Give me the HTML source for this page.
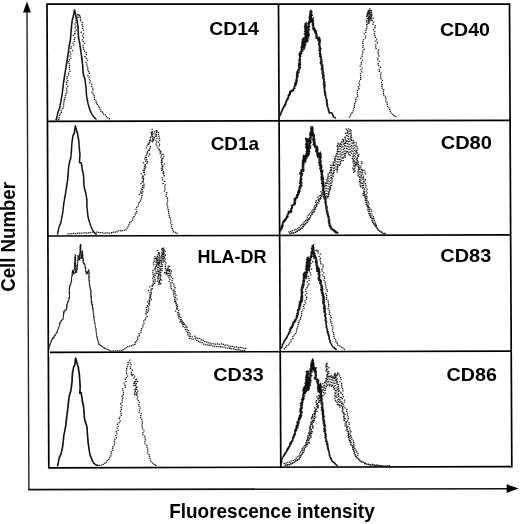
<!DOCTYPE html>
<html><head><meta charset="utf-8"><style>
html,body{margin:0;padding:0;background:#fff;}
svg{display:block;filter:grayscale(1) blur(0.3px);font-family:"Liberation Sans",sans-serif;}
</style></head><body>
<svg width="520" height="524" viewBox="0 0 520 524">
<line x1="47.0" y1="4.15" x2="509.5" y2="4.15" stroke="#000" stroke-width="1.7"/>
<line x1="48.8" y1="467.8" x2="511.8" y2="466.6" stroke="#000" stroke-width="1.7"/>
<line x1="47.0" y1="3.3" x2="48.8" y2="468.6" stroke="#000" stroke-width="1.7"/>
<line x1="509.5" y1="3.3" x2="511.8" y2="467.4" stroke="#000" stroke-width="1.7"/>
<line x1="278.5" y1="4" x2="280.8" y2="467.5" stroke="#000" stroke-width="1.7"/>
<line x1="47.4" y1="121.3" x2="510.1" y2="120.4" stroke="#000" stroke-width="1.7"/>
<line x1="47.9" y1="236.0" x2="510.6" y2="234.9" stroke="#000" stroke-width="1.7"/>
<line x1="50" y1="352.3" x2="511.2" y2="351.1" stroke="#000" stroke-width="1.7"/>
<line x1="27.0" y1="11" x2="28.9" y2="489.6" stroke="#222" stroke-width="1.4"/>
<line x1="28.2" y1="489.6" x2="508" y2="488.7" stroke="#111" stroke-width="1.6"/>
<polygon points="27,1.5 23,12.5 30.9,12.5" fill="#000"/>
<polygon points="518.8,488.5 506.7,484.3 506.7,492.9" fill="#000"/>
<path d="M56.3,119.4h1.3v1.3h-1.3zM58.1,118.8h1.3v1.3h-1.3zM58.6,116.9h1.3v1.3h-1.3zM58.9,114.9h1.3v1.3h-1.3zM59.5,113.2h1.3v1.3h-1.3zM60.7,111.6h1.3v1.3h-1.3zM60.5,109.5h1.3v1.3h-1.3zM62.1,108.0h1.3v1.3h-1.3zM62.8,106.3h1.3v1.3h-1.3zM63.0,104.3h1.3v1.3h-1.3zM63.1,102.4h1.3v1.3h-1.3zM63.4,100.5h1.3v1.3h-1.3zM63.7,98.7h1.3v1.3h-1.3zM64.4,96.9h1.3v1.3h-1.3zM64.8,95.0h1.3v1.3h-1.3zM65.2,93.1h1.3v1.3h-1.3zM66.2,91.4h1.3v1.3h-1.3zM66.2,89.5h1.3v1.3h-1.3zM66.1,87.5h1.3v1.3h-1.3zM67.1,85.8h1.3v1.3h-1.3zM65.9,83.6h1.3v1.3h-1.3zM66.0,81.8h1.3v1.3h-1.3zM67.2,80.0h1.3v1.3h-1.3zM66.3,78.0h1.3v1.3h-1.3zM66.5,76.1h1.3v1.3h-1.3zM67.9,74.3h1.3v1.3h-1.3zM68.0,72.4h1.3v1.3h-1.3zM69.3,70.7h1.3v1.3h-1.3zM68.8,68.7h1.3v1.3h-1.3zM68.7,66.8h1.3v1.3h-1.3zM68.9,64.9h1.3v1.3h-1.3zM68.4,62.9h1.3v1.3h-1.3zM68.0,61.0h1.3v1.3h-1.3zM68.8,59.1h1.3v1.3h-1.3zM70.3,57.4h1.3v1.3h-1.3zM69.4,55.4h1.3v1.3h-1.3zM70.1,53.5h1.3v1.3h-1.3zM69.4,51.5h1.3v1.3h-1.3zM71.8,50.0h1.3v1.3h-1.3zM70.4,47.8h1.3v1.3h-1.3zM70.9,46.0h1.3v1.3h-1.3zM72.9,44.4h1.3v1.3h-1.3zM72.4,42.4h1.3v1.3h-1.3zM73.7,40.7h1.3v1.3h-1.3zM73.6,38.8h1.3v1.3h-1.3zM74.2,36.9h1.3v1.3h-1.3zM72.8,34.8h1.3v1.3h-1.3zM74.2,33.1h1.3v1.3h-1.3zM74.4,31.2h1.3v1.3h-1.3zM75.6,29.4h1.3v1.3h-1.3zM74.5,27.3h1.3v1.3h-1.3zM75.3,25.5h1.3v1.3h-1.3zM74.2,23.5h1.3v1.3h-1.3zM75.3,21.7h1.3v1.3h-1.3zM75.4,19.8h1.3v1.3h-1.3zM75.3,17.7h1.3v1.3h-1.3zM77.4,16.6h1.3v1.3h-1.3zM77.0,14.1h1.3v1.3h-1.3zM78.3,14.3h1.3v1.3h-1.3zM79.0,14.9h1.3v1.3h-1.3zM79.5,16.6h1.3v1.3h-1.3zM79.8,18.5h1.3v1.3h-1.3zM80.1,20.3h1.3v1.3h-1.3zM81.8,21.9h1.3v1.3h-1.3zM81.5,23.9h1.3v1.3h-1.3zM82.1,25.7h1.3v1.3h-1.3zM81.8,27.7h1.3v1.3h-1.3zM82.8,29.5h1.3v1.3h-1.3zM80.6,31.6h1.3v1.3h-1.3zM82.7,33.3h1.3v1.3h-1.3zM81.8,35.3h1.3v1.3h-1.3zM82.9,37.1h1.3v1.3h-1.3zM81.7,39.2h1.3v1.3h-1.3zM82.5,41.0h1.3v1.3h-1.3zM84.1,42.7h1.3v1.3h-1.3zM82.5,44.8h1.3v1.3h-1.3zM82.5,46.8h1.3v1.3h-1.3zM82.9,48.6h1.3v1.3h-1.3zM84.0,50.4h1.3v1.3h-1.3zM85.5,52.0h1.3v1.3h-1.3zM85.8,53.9h1.3v1.3h-1.3zM84.3,56.1h1.3v1.3h-1.3zM85.7,57.8h1.3v1.3h-1.3zM86.9,59.5h1.3v1.3h-1.3zM85.3,61.7h1.3v1.3h-1.3zM86.1,63.5h1.3v1.3h-1.3zM86.5,65.4h1.3v1.3h-1.3zM87.1,67.2h1.3v1.3h-1.3zM87.2,69.1h1.3v1.3h-1.3zM87.9,70.9h1.3v1.3h-1.3zM88.7,72.7h1.3v1.3h-1.3zM87.2,74.9h1.3v1.3h-1.3zM88.5,76.5h1.3v1.3h-1.3zM88.8,78.4h1.3v1.3h-1.3zM89.7,80.2h1.3v1.3h-1.3zM89.2,82.2h1.3v1.3h-1.3zM91.1,83.7h1.3v1.3h-1.3zM90.9,85.7h1.3v1.3h-1.3zM92.0,87.4h1.3v1.3h-1.3zM92.3,89.3h1.3v1.3h-1.3zM91.3,91.6h1.3v1.3h-1.3zM92.4,93.2h1.3v1.3h-1.3zM93.4,94.9h1.3v1.3h-1.3zM93.8,96.8h1.3v1.3h-1.3zM93.8,98.8h1.3v1.3h-1.3zM95.3,100.2h1.3v1.3h-1.3zM95.8,102.1h1.3v1.3h-1.3zM96.6,103.8h1.3v1.3h-1.3zM97.9,105.3h1.3v1.3h-1.3zM98.6,107.0h1.3v1.3h-1.3zM99.4,108.8h1.3v1.3h-1.3zM100.2,110.6h1.3v1.3h-1.3zM102.0,111.6h1.3v1.3h-1.3zM102.8,113.4h1.3v1.3h-1.3zM104.7,114.2h1.3v1.3h-1.3zM105.7,115.9h1.3v1.3h-1.3zM107.0,117.3h1.3v1.3h-1.3zM108.8,118.1h1.3v1.3h-1.3z" fill="#1a1a1a"/>
<path d="M348.5,116.7h1.3v1.3h-1.3zM349.8,115.3h1.3v1.3h-1.3zM350.3,113.4h1.3v1.3h-1.3zM351.5,111.9h1.3v1.3h-1.3zM352.4,110.2h1.3v1.3h-1.3zM352.9,108.3h1.3v1.3h-1.3zM353.7,106.6h1.3v1.3h-1.3zM353.7,104.6h1.3v1.3h-1.3zM354.2,102.8h1.3v1.3h-1.3zM354.9,101.0h1.3v1.3h-1.3zM355.0,99.1h1.3v1.3h-1.3zM355.6,97.3h1.3v1.3h-1.3zM357.0,95.6h1.3v1.3h-1.3zM356.8,93.7h1.3v1.3h-1.3zM356.7,91.7h1.3v1.3h-1.3zM356.8,89.8h1.3v1.3h-1.3zM358.3,88.1h1.3v1.3h-1.3zM357.7,86.1h1.3v1.3h-1.3zM359.0,84.4h1.3v1.3h-1.3zM358.5,82.4h1.3v1.3h-1.3zM358.8,80.5h1.3v1.3h-1.3zM360.0,78.8h1.3v1.3h-1.3zM360.0,76.9h1.3v1.3h-1.3zM359.9,74.9h1.3v1.3h-1.3zM359.8,73.0h1.3v1.3h-1.3zM361.1,71.2h1.3v1.3h-1.3zM360.3,69.2h1.3v1.3h-1.3zM361.7,67.4h1.3v1.3h-1.3zM359.6,65.4h1.3v1.3h-1.3zM360.5,63.5h1.3v1.3h-1.3zM360.7,61.7h1.3v1.3h-1.3zM361.8,59.8h1.3v1.3h-1.3zM360.0,57.8h1.3v1.3h-1.3zM361.4,56.0h1.3v1.3h-1.3zM361.4,54.2h1.3v1.3h-1.3zM362.0,52.3h1.3v1.3h-1.3zM362.2,50.5h1.3v1.3h-1.3zM363.5,48.8h1.3v1.3h-1.3zM362.2,46.6h1.3v1.3h-1.3zM362.5,44.8h1.3v1.3h-1.3zM362.2,42.8h1.3v1.3h-1.3zM362.1,40.9h1.3v1.3h-1.3zM362.8,39.0h1.3v1.3h-1.3zM364.8,37.4h1.3v1.3h-1.3zM364.9,35.5h1.3v1.3h-1.3zM363.4,33.3h1.3v1.3h-1.3zM365.1,31.7h1.3v1.3h-1.3zM365.3,29.8h1.3v1.3h-1.3zM365.9,28.0h1.3v1.3h-1.3zM366.4,26.2h1.3v1.3h-1.3zM365.9,24.1h1.3v1.3h-1.3zM368.2,22.6h1.3v1.3h-1.3zM367.5,20.6h1.3v1.3h-1.3zM368.0,18.8h1.3v1.3h-1.3zM368.1,16.9h1.3v1.3h-1.3zM367.0,14.9h1.3v1.3h-1.3zM366.7,13.0h1.3v1.3h-1.3zM367.7,11.1h1.3v1.3h-1.3zM368.3,9.8h1.3v1.3h-1.3zM367.4,10.8h1.3v1.3h-1.3zM367.8,12.5h1.3v1.3h-1.3zM369.7,14.1h1.3v1.3h-1.3zM367.9,16.4h1.3v1.3h-1.3zM368.5,18.4h1.3v1.3h-1.3zM370.1,19.4h1.3v1.3h-1.3zM369.5,16.9h1.3v1.3h-1.3zM370.6,15.1h1.3v1.3h-1.3zM368.5,12.9h1.3v1.3h-1.3zM368.6,10.9h1.3v1.3h-1.3zM369.2,8.2h1.3v1.3h-1.3zM370.7,10.2h1.3v1.3h-1.3zM371.0,12.2h1.3v1.3h-1.3zM371.4,14.1h1.3v1.3h-1.3zM370.7,16.2h1.3v1.3h-1.3zM372.5,17.8h1.3v1.3h-1.3zM371.6,19.9h1.3v1.3h-1.3zM373.1,21.5h1.3v1.3h-1.3zM372.3,23.6h1.3v1.3h-1.3zM374.5,25.1h1.3v1.3h-1.3zM374.3,27.1h1.3v1.3h-1.3zM373.0,29.2h1.3v1.3h-1.3zM374.2,31.0h1.3v1.3h-1.3zM373.6,32.9h1.3v1.3h-1.3zM374.2,34.8h1.3v1.3h-1.3zM374.6,36.6h1.3v1.3h-1.3zM375.9,38.4h1.3v1.3h-1.3zM375.2,40.4h1.3v1.3h-1.3zM376.8,42.1h1.3v1.3h-1.3zM375.1,44.2h1.3v1.3h-1.3zM375.0,46.2h1.3v1.3h-1.3zM375.5,48.0h1.3v1.3h-1.3zM377.9,49.6h1.3v1.3h-1.3zM377.4,51.6h1.3v1.3h-1.3zM377.6,53.5h1.3v1.3h-1.3zM378.4,55.3h1.3v1.3h-1.3zM377.3,57.4h1.3v1.3h-1.3zM377.1,59.3h1.3v1.3h-1.3zM378.6,61.0h1.3v1.3h-1.3zM377.5,63.1h1.3v1.3h-1.3zM377.9,65.0h1.3v1.3h-1.3zM379.8,66.6h1.3v1.3h-1.3zM378.6,68.7h1.3v1.3h-1.3zM378.6,70.6h1.3v1.3h-1.3zM380.4,72.3h1.3v1.3h-1.3zM379.9,74.3h1.3v1.3h-1.3zM380.0,76.2h1.3v1.3h-1.3zM380.4,78.0h1.3v1.3h-1.3zM381.8,79.7h1.3v1.3h-1.3zM380.9,81.8h1.3v1.3h-1.3zM381.3,83.7h1.3v1.3h-1.3zM381.3,85.6h1.3v1.3h-1.3zM381.7,87.5h1.3v1.3h-1.3zM383.0,89.1h1.3v1.3h-1.3zM382.7,91.2h1.3v1.3h-1.3zM382.9,93.1h1.3v1.3h-1.3zM383.3,94.9h1.3v1.3h-1.3zM384.8,96.5h1.3v1.3h-1.3zM385.4,98.3h1.3v1.3h-1.3zM385.1,100.4h1.3v1.3h-1.3zM386.4,101.9h1.3v1.3h-1.3zM386.6,103.8h1.3v1.3h-1.3zM386.9,105.8h1.3v1.3h-1.3zM388.2,107.3h1.3v1.3h-1.3zM388.9,109.0h1.3v1.3h-1.3zM389.6,110.8h1.3v1.3h-1.3zM390.6,112.5h1.3v1.3h-1.3zM392.1,113.7h1.3v1.3h-1.3zM393.3,115.1h1.3v1.3h-1.3zM395.1,115.9h1.3v1.3h-1.3z" fill="#1a1a1a"/>
<path d="M67.4,233.3h1.3v1.3h-1.3zM69.3,233.3h1.3v1.3h-1.3zM71.1,232.9h1.3v1.3h-1.3zM73.0,232.8h1.3v1.3h-1.3zM74.9,232.9h1.3v1.3h-1.3zM76.8,232.5h1.3v1.3h-1.3zM78.7,232.5h1.3v1.3h-1.3zM80.6,232.4h1.3v1.3h-1.3zM82.5,232.4h1.3v1.3h-1.3zM84.4,232.0h1.3v1.3h-1.3zM86.3,232.4h1.3v1.3h-1.3zM88.2,232.1h1.3v1.3h-1.3zM90.1,231.8h1.3v1.3h-1.3zM92.0,231.5h1.3v1.3h-1.3zM93.9,231.9h1.3v1.3h-1.3zM95.8,231.5h1.3v1.3h-1.3zM97.7,231.7h1.3v1.3h-1.3zM99.6,231.9h1.3v1.3h-1.3zM101.5,232.0h1.3v1.3h-1.3zM103.4,232.7h1.3v1.3h-1.3zM105.3,232.2h1.3v1.3h-1.3zM107.2,232.2h1.3v1.3h-1.3zM109.1,232.5h1.3v1.3h-1.3zM111.0,232.1h1.3v1.3h-1.3zM112.8,231.5h1.3v1.3h-1.3zM114.7,231.5h1.3v1.3h-1.3zM116.5,231.1h1.3v1.3h-1.3zM118.1,229.9h1.3v1.3h-1.3zM120.0,230.2h1.3v1.3h-1.3zM121.7,230.0h1.3v1.3h-1.3zM123.7,229.7h1.3v1.3h-1.3zM125.4,228.9h1.3v1.3h-1.3zM126.5,227.4h1.3v1.3h-1.3zM127.5,225.7h1.3v1.3h-1.3zM128.3,223.9h1.3v1.3h-1.3zM129.1,222.1h1.3v1.3h-1.3zM130.6,220.9h1.3v1.3h-1.3zM131.9,219.4h1.3v1.3h-1.3zM132.3,217.5h1.3v1.3h-1.3zM133.4,215.9h1.3v1.3h-1.3zM134.4,214.3h1.3v1.3h-1.3zM135.3,212.6h1.3v1.3h-1.3zM136.1,210.9h1.3v1.3h-1.3zM135.3,208.7h1.3v1.3h-1.3zM135.9,206.8h1.3v1.3h-1.3zM137.5,205.4h1.3v1.3h-1.3zM137.9,203.5h1.3v1.3h-1.3zM138.7,201.8h1.3v1.3h-1.3zM139.9,200.2h1.3v1.3h-1.3zM140.5,198.4h1.3v1.3h-1.3zM141.0,196.5h1.3v1.3h-1.3zM141.5,194.7h1.3v1.3h-1.3zM141.2,192.6h1.3v1.3h-1.3zM142.2,190.9h1.3v1.3h-1.3zM141.7,188.9h1.3v1.3h-1.3zM143.2,187.2h1.3v1.3h-1.3zM143.3,185.3h1.3v1.3h-1.3zM143.3,183.4h1.3v1.3h-1.3zM142.7,181.4h1.3v1.3h-1.3zM142.7,179.5h1.3v1.3h-1.3zM142.9,177.6h1.3v1.3h-1.3zM142.0,175.6h1.3v1.3h-1.3zM144.1,173.9h1.3v1.3h-1.3zM143.7,172.0h1.3v1.3h-1.3zM143.6,170.0h1.3v1.3h-1.3zM144.3,168.2h1.3v1.3h-1.3zM145.1,166.5h1.3v1.3h-1.3zM144.7,164.4h1.3v1.3h-1.3zM146.3,162.8h1.3v1.3h-1.3zM146.9,161.1h1.3v1.3h-1.3zM146.1,158.9h1.3v1.3h-1.3zM145.9,156.9h1.3v1.3h-1.3zM148.0,155.4h1.3v1.3h-1.3zM148.9,153.6h1.3v1.3h-1.3zM146.9,151.4h1.3v1.3h-1.3zM148.6,149.7h1.3v1.3h-1.3zM149.1,147.9h1.3v1.3h-1.3zM149.7,146.1h1.3v1.3h-1.3zM148.0,143.8h1.3v1.3h-1.3zM148.5,142.0h1.3v1.3h-1.3zM151.4,140.7h1.3v1.3h-1.3zM149.6,138.4h1.3v1.3h-1.3zM149.9,136.6h1.3v1.3h-1.3zM151.1,134.8h1.3v1.3h-1.3zM150.9,132.9h1.3v1.3h-1.3zM151.7,131.2h1.3v1.3h-1.3zM151.5,128.8h1.3v1.3h-1.3zM150.5,131.8h1.3v1.3h-1.3zM152.5,133.2h1.3v1.3h-1.3zM151.4,135.4h1.3v1.3h-1.3zM153.4,136.8h1.3v1.3h-1.3zM152.7,139.0h1.3v1.3h-1.3zM152.9,139.6h1.3v1.3h-1.3zM153.1,138.7h1.3v1.3h-1.3zM153.6,137.1h1.3v1.3h-1.3zM155.0,135.5h1.3v1.3h-1.3zM154.5,133.4h1.3v1.3h-1.3zM153.8,131.1h1.3v1.3h-1.3zM156.0,130.6h1.3v1.3h-1.3zM155.6,129.9h1.3v1.3h-1.3zM155.9,130.9h1.3v1.3h-1.3zM157.9,131.9h1.3v1.3h-1.3zM157.8,134.0h1.3v1.3h-1.3zM158.3,135.8h1.3v1.3h-1.3zM158.6,137.7h1.3v1.3h-1.3zM159.0,139.7h1.3v1.3h-1.3zM157.8,141.6h1.3v1.3h-1.3zM158.9,143.4h1.3v1.3h-1.3zM158.8,145.3h1.3v1.3h-1.3zM157.2,147.5h1.3v1.3h-1.3zM158.5,149.1h1.3v1.3h-1.3zM160.1,150.7h1.3v1.3h-1.3zM159.4,152.7h1.3v1.3h-1.3zM160.7,154.4h1.3v1.3h-1.3zM160.3,156.4h1.3v1.3h-1.3zM161.2,158.2h1.3v1.3h-1.3zM160.8,160.2h1.3v1.3h-1.3zM160.7,162.1h1.3v1.3h-1.3zM161.1,163.9h1.3v1.3h-1.3zM161.7,165.8h1.3v1.3h-1.3zM160.8,167.8h1.3v1.3h-1.3zM160.8,169.7h1.3v1.3h-1.3zM162.8,171.4h1.3v1.3h-1.3zM163.0,173.3h1.3v1.3h-1.3zM163.4,175.1h1.3v1.3h-1.3zM161.5,177.3h1.3v1.3h-1.3zM161.9,179.2h1.3v1.3h-1.3zM163.9,180.8h1.3v1.3h-1.3zM162.5,182.9h1.3v1.3h-1.3zM164.5,184.5h1.3v1.3h-1.3zM164.1,186.5h1.3v1.3h-1.3zM164.4,188.4h1.3v1.3h-1.3zM163.8,190.4h1.3v1.3h-1.3zM166.0,192.0h1.3v1.3h-1.3zM165.7,194.0h1.3v1.3h-1.3zM165.5,195.9h1.3v1.3h-1.3zM166.9,197.6h1.3v1.3h-1.3zM166.9,199.5h1.3v1.3h-1.3zM166.8,201.5h1.3v1.3h-1.3zM166.3,203.5h1.3v1.3h-1.3zM166.9,205.3h1.3v1.3h-1.3zM167.1,207.2h1.3v1.3h-1.3zM167.6,209.1h1.3v1.3h-1.3zM168.0,210.9h1.3v1.3h-1.3zM168.1,212.8h1.3v1.3h-1.3zM168.6,214.7h1.3v1.3h-1.3zM168.9,216.6h1.3v1.3h-1.3zM169.8,218.3h1.3v1.3h-1.3zM170.3,220.2h1.3v1.3h-1.3zM170.0,222.2h1.3v1.3h-1.3zM171.0,223.9h1.3v1.3h-1.3zM170.7,225.9h1.3v1.3h-1.3zM171.5,227.7h1.3v1.3h-1.3zM172.1,229.4h1.3v1.3h-1.3zM172.8,231.1h1.3v1.3h-1.3zM174.9,231.8h1.3v1.3h-1.3zM176.4,232.8h1.3v1.3h-1.3z" fill="#1a1a1a"/>
<path d="M109.3,350.0h1.3v1.3h-1.3zM111.3,350.6h1.3v1.3h-1.3zM113.1,350.3h1.3v1.3h-1.3zM115.1,350.4h1.3v1.3h-1.3zM116.9,349.9h1.3v1.3h-1.3zM118.9,350.2h1.3v1.3h-1.3zM120.8,350.1h1.3v1.3h-1.3zM122.4,349.1h1.3v1.3h-1.3zM124.1,348.3h1.3v1.3h-1.3zM125.6,347.0h1.3v1.3h-1.3zM127.2,346.0h1.3v1.3h-1.3zM129.0,345.5h1.3v1.3h-1.3zM131.0,345.1h1.3v1.3h-1.3zM132.6,344.3h1.3v1.3h-1.3zM134.3,343.6h1.3v1.3h-1.3zM134.8,341.6h1.3v1.3h-1.3zM135.9,340.2h1.3v1.3h-1.3zM137.0,338.6h1.3v1.3h-1.3zM137.1,336.5h1.3v1.3h-1.3zM138.6,335.1h1.3v1.3h-1.3zM138.4,333.0h1.3v1.3h-1.3zM140.3,331.7h1.3v1.3h-1.3zM140.3,329.7h1.3v1.3h-1.3zM140.9,327.9h1.3v1.3h-1.3zM142.1,326.3h1.3v1.3h-1.3zM142.4,324.4h1.3v1.3h-1.3zM143.4,322.7h1.3v1.3h-1.3zM143.0,320.5h1.3v1.3h-1.3zM144.5,319.1h1.3v1.3h-1.3zM145.2,317.3h1.3v1.3h-1.3zM146.5,315.7h1.3v1.3h-1.3zM145.5,313.4h1.3v1.3h-1.3zM146.9,311.8h1.3v1.3h-1.3zM147.7,310.1h1.3v1.3h-1.3zM148.0,308.2h1.3v1.3h-1.3zM147.4,306.1h1.3v1.3h-1.3zM149.0,304.5h1.3v1.3h-1.3zM148.7,302.6h1.3v1.3h-1.3zM149.0,300.7h1.3v1.3h-1.3zM150.7,299.0h1.3v1.3h-1.3zM149.2,297.0h1.3v1.3h-1.3zM149.9,295.1h1.3v1.3h-1.3zM150.7,293.3h1.3v1.3h-1.3zM150.6,291.4h1.3v1.3h-1.3zM150.5,289.5h1.3v1.3h-1.3zM151.7,287.9h1.3v1.3h-1.3zM151.5,285.8h1.3v1.3h-1.3zM152.6,284.2h1.3v1.3h-1.3zM154.0,282.6h1.3v1.3h-1.3zM154.4,280.8h1.3v1.3h-1.3zM154.5,278.9h1.3v1.3h-1.3zM154.0,276.9h1.3v1.3h-1.3zM154.5,275.0h1.3v1.3h-1.3zM154.3,273.1h1.3v1.3h-1.3zM155.3,271.3h1.3v1.3h-1.3zM154.5,269.3h1.3v1.3h-1.3zM155.0,267.4h1.3v1.3h-1.3zM155.9,265.6h1.3v1.3h-1.3zM155.5,263.7h1.3v1.3h-1.3zM155.2,261.7h1.3v1.3h-1.3zM156.7,260.1h1.3v1.3h-1.3zM155.8,257.9h1.3v1.3h-1.3zM156.2,257.3h1.3v1.3h-1.3zM156.1,258.8h1.3v1.3h-1.3zM157.2,260.0h1.3v1.3h-1.3zM157.0,262.3h1.3v1.3h-1.3zM157.9,262.6h1.3v1.3h-1.3zM157.7,262.1h1.3v1.3h-1.3zM159.0,260.4h1.3v1.3h-1.3zM158.4,258.4h1.3v1.3h-1.3zM158.4,256.5h1.3v1.3h-1.3zM158.8,254.6h1.3v1.3h-1.3zM158.9,252.8h1.3v1.3h-1.3zM158.4,252.6h1.3v1.3h-1.3zM158.8,254.4h1.3v1.3h-1.3zM159.5,256.3h1.3v1.3h-1.3zM159.3,258.2h1.3v1.3h-1.3zM159.4,260.1h1.3v1.3h-1.3zM159.1,262.0h1.3v1.3h-1.3zM157.7,263.9h1.3v1.3h-1.3zM159.4,265.8h1.3v1.3h-1.3zM159.2,267.7h1.3v1.3h-1.3zM159.5,269.6h1.3v1.3h-1.3zM159.0,271.5h1.3v1.3h-1.3zM158.1,273.4h1.3v1.3h-1.3zM158.3,275.3h1.3v1.3h-1.3zM159.7,277.2h1.3v1.3h-1.3zM160.1,279.1h1.3v1.3h-1.3zM158.6,281.1h1.3v1.3h-1.3zM159.6,282.9h1.3v1.3h-1.3zM160.1,283.3h1.3v1.3h-1.3zM158.7,281.1h1.3v1.3h-1.3zM160.9,279.4h1.3v1.3h-1.3zM159.5,277.4h1.3v1.3h-1.3zM160.1,275.5h1.3v1.3h-1.3zM159.4,273.6h1.3v1.3h-1.3zM160.1,271.7h1.3v1.3h-1.3zM161.3,269.9h1.3v1.3h-1.3zM161.4,268.0h1.3v1.3h-1.3zM160.6,266.0h1.3v1.3h-1.3zM161.5,264.2h1.3v1.3h-1.3zM160.8,262.2h1.3v1.3h-1.3zM160.7,260.3h1.3v1.3h-1.3zM161.4,258.5h1.3v1.3h-1.3zM160.7,256.5h1.3v1.3h-1.3zM161.1,254.6h1.3v1.3h-1.3zM162.3,252.8h1.3v1.3h-1.3zM162.7,251.0h1.3v1.3h-1.3zM161.1,248.7h1.3v1.3h-1.3zM162.8,247.6h1.3v1.3h-1.3zM162.1,247.9h1.3v1.3h-1.3zM163.2,249.1h1.3v1.3h-1.3zM164.6,250.7h1.3v1.3h-1.3zM163.4,252.9h1.3v1.3h-1.3zM164.7,254.6h1.3v1.3h-1.3zM163.8,256.6h1.3v1.3h-1.3zM164.6,258.5h1.3v1.3h-1.3zM164.1,260.4h1.3v1.3h-1.3zM165.2,262.3h1.3v1.3h-1.3zM164.7,264.2h1.3v1.3h-1.3zM164.7,266.1h1.3v1.3h-1.3zM164.6,268.0h1.3v1.3h-1.3zM165.9,269.8h1.3v1.3h-1.3zM164.1,272.1h1.3v1.3h-1.3zM165.9,273.3h1.3v1.3h-1.3zM165.5,273.5h1.3v1.3h-1.3zM165.6,271.6h1.3v1.3h-1.3zM165.7,269.4h1.3v1.3h-1.3zM166.7,268.2h1.3v1.3h-1.3zM167.0,268.2h1.3v1.3h-1.3zM167.5,269.6h1.3v1.3h-1.3zM169.1,271.0h1.3v1.3h-1.3zM169.5,272.9h1.3v1.3h-1.3zM169.3,274.9h1.3v1.3h-1.3zM168.4,277.0h1.3v1.3h-1.3zM169.3,278.7h1.3v1.3h-1.3zM168.6,280.8h1.3v1.3h-1.3zM169.7,282.5h1.3v1.3h-1.3zM170.2,284.4h1.3v1.3h-1.3zM170.3,286.3h1.3v1.3h-1.3zM170.8,288.1h1.3v1.3h-1.3zM172.4,289.7h1.3v1.3h-1.3zM173.1,291.5h1.3v1.3h-1.3zM173.0,293.5h1.3v1.3h-1.3zM173.2,295.4h1.3v1.3h-1.3zM174.4,297.1h1.3v1.3h-1.3zM174.0,299.1h1.3v1.3h-1.3zM173.9,301.0h1.3v1.3h-1.3zM175.4,302.7h1.3v1.3h-1.3zM175.7,304.6h1.3v1.3h-1.3zM176.0,306.4h1.3v1.3h-1.3zM176.1,308.3h1.3v1.3h-1.3zM175.0,310.5h1.3v1.3h-1.3zM177.3,311.9h1.3v1.3h-1.3zM177.4,313.8h1.3v1.3h-1.3zM178.1,315.6h1.3v1.3h-1.3zM178.2,317.5h1.3v1.3h-1.3zM179.7,318.9h1.3v1.3h-1.3zM179.6,321.1h1.3v1.3h-1.3zM181.1,322.4h1.3v1.3h-1.3zM182.1,324.0h1.3v1.3h-1.3zM182.4,326.0h1.3v1.3h-1.3zM184.3,327.0h1.3v1.3h-1.3zM184.8,329.0h1.3v1.3h-1.3zM186.1,330.4h1.3v1.3h-1.3zM186.9,332.1h1.3v1.3h-1.3zM187.2,334.2h1.3v1.3h-1.3zM188.6,335.4h1.3v1.3h-1.3zM188.7,337.8h1.3v1.3h-1.3zM190.5,338.3h1.3v1.3h-1.3zM192.5,338.5h1.3v1.3h-1.3zM194.7,338.3h1.3v1.3h-1.3zM196.1,339.8h1.3v1.3h-1.3zM197.8,340.6h1.3v1.3h-1.3zM199.4,341.6h1.3v1.3h-1.3zM201.4,341.9h1.3v1.3h-1.3zM202.8,343.5h1.3v1.3h-1.3zM204.6,344.2h1.3v1.3h-1.3zM206.5,344.2h1.3v1.3h-1.3zM208.4,344.6h1.3v1.3h-1.3zM210.3,344.6h1.3v1.3h-1.3zM212.1,345.5h1.3v1.3h-1.3zM213.9,345.7h1.3v1.3h-1.3zM215.8,346.0h1.3v1.3h-1.3zM217.8,345.9h1.3v1.3h-1.3zM219.6,346.1h1.3v1.3h-1.3zM221.5,346.3h1.3v1.3h-1.3zM223.4,346.4h1.3v1.3h-1.3zM225.2,347.2h1.3v1.3h-1.3zM227.1,347.4h1.3v1.3h-1.3zM229.0,347.6h1.3v1.3h-1.3zM230.8,348.2h1.3v1.3h-1.3zM232.8,348.1h1.3v1.3h-1.3zM234.6,348.9h1.3v1.3h-1.3zM236.4,349.1h1.3v1.3h-1.3zM238.4,349.1h1.3v1.3h-1.3zM240.2,349.7h1.3v1.3h-1.3zM242.1,349.9h1.3v1.3h-1.3zM244.0,349.8h1.3v1.3h-1.3z" fill="#1a1a1a"/>
<path d="M97.3,464.7h1.3v1.3h-1.3zM99.2,464.8h1.3v1.3h-1.3zM101.1,464.5h1.3v1.3h-1.3zM102.8,463.8h1.3v1.3h-1.3zM104.3,462.6h1.3v1.3h-1.3zM105.8,461.5h1.3v1.3h-1.3zM106.6,459.7h1.3v1.3h-1.3zM108.3,458.6h1.3v1.3h-1.3zM109.1,456.8h1.3v1.3h-1.3zM110.1,455.2h1.3v1.3h-1.3zM110.5,453.2h1.3v1.3h-1.3zM110.7,451.3h1.3v1.3h-1.3zM112.2,449.8h1.3v1.3h-1.3zM111.9,447.8h1.3v1.3h-1.3zM112.2,445.9h1.3v1.3h-1.3zM113.7,444.3h1.3v1.3h-1.3zM114.0,442.4h1.3v1.3h-1.3zM113.6,440.4h1.3v1.3h-1.3zM114.2,438.5h1.3v1.3h-1.3zM115.8,437.0h1.3v1.3h-1.3zM115.1,434.9h1.3v1.3h-1.3zM116.3,433.2h1.3v1.3h-1.3zM115.6,431.1h1.3v1.3h-1.3zM117.4,429.5h1.3v1.3h-1.3zM116.4,427.4h1.3v1.3h-1.3zM117.6,425.7h1.3v1.3h-1.3zM116.9,423.6h1.3v1.3h-1.3zM118.5,422.0h1.3v1.3h-1.3zM119.6,420.3h1.3v1.3h-1.3zM118.4,418.1h1.3v1.3h-1.3zM119.2,416.4h1.3v1.3h-1.3zM120.6,414.6h1.3v1.3h-1.3zM120.4,412.7h1.3v1.3h-1.3zM119.8,410.7h1.3v1.3h-1.3zM120.7,408.9h1.3v1.3h-1.3zM120.4,407.0h1.3v1.3h-1.3zM121.5,405.2h1.3v1.3h-1.3zM120.1,403.1h1.3v1.3h-1.3zM121.5,401.4h1.3v1.3h-1.3zM121.5,399.5h1.3v1.3h-1.3zM122.1,397.6h1.3v1.3h-1.3zM121.4,395.6h1.3v1.3h-1.3zM122.7,393.9h1.3v1.3h-1.3zM122.9,392.0h1.3v1.3h-1.3zM122.4,390.0h1.3v1.3h-1.3zM121.9,388.0h1.3v1.3h-1.3zM124.6,386.6h1.3v1.3h-1.3zM124.3,384.6h1.3v1.3h-1.3zM123.4,382.4h1.3v1.3h-1.3zM125.3,380.9h1.3v1.3h-1.3zM124.6,378.8h1.3v1.3h-1.3zM125.7,377.1h1.3v1.3h-1.3zM126.9,375.4h1.3v1.3h-1.3zM126.0,373.3h1.3v1.3h-1.3zM125.8,371.4h1.3v1.3h-1.3zM126.0,369.5h1.3v1.3h-1.3zM126.1,367.6h1.3v1.3h-1.3zM127.0,365.8h1.3v1.3h-1.3zM127.4,363.8h1.3v1.3h-1.3zM127.5,361.6h1.3v1.3h-1.3zM129.1,359.5h1.3v1.3h-1.3zM129.5,362.3h1.3v1.3h-1.3zM130.5,363.9h1.3v1.3h-1.3zM129.6,366.2h1.3v1.3h-1.3zM129.7,368.0h1.3v1.3h-1.3zM131.6,369.6h1.3v1.3h-1.3zM130.7,371.7h1.3v1.3h-1.3zM130.7,373.5h1.3v1.3h-1.3zM131.6,375.0h1.3v1.3h-1.3zM132.5,373.8h1.3v1.3h-1.3zM131.8,374.3h1.3v1.3h-1.3zM133.9,375.4h1.3v1.3h-1.3zM133.3,377.5h1.3v1.3h-1.3zM135.2,379.0h1.3v1.3h-1.3zM133.9,381.1h1.3v1.3h-1.3zM133.2,383.0h1.3v1.3h-1.3zM133.3,384.9h1.3v1.3h-1.3zM135.6,386.7h1.3v1.3h-1.3zM134.3,388.7h1.3v1.3h-1.3zM134.7,390.6h1.3v1.3h-1.3zM133.8,392.5h1.3v1.3h-1.3zM135.6,394.0h1.3v1.3h-1.3zM134.0,393.9h1.3v1.3h-1.3zM135.6,392.2h1.3v1.3h-1.3zM134.8,390.2h1.3v1.3h-1.3zM134.9,388.3h1.3v1.3h-1.3zM136.4,386.5h1.3v1.3h-1.3zM134.8,384.5h1.3v1.3h-1.3zM134.2,382.5h1.3v1.3h-1.3zM135.3,380.7h1.3v1.3h-1.3zM136.0,378.4h1.3v1.3h-1.3zM136.9,380.9h1.3v1.3h-1.3zM135.8,383.0h1.3v1.3h-1.3zM135.0,385.0h1.3v1.3h-1.3zM136.1,386.8h1.3v1.3h-1.3zM136.1,388.7h1.3v1.3h-1.3zM137.1,390.5h1.3v1.3h-1.3zM136.6,392.5h1.3v1.3h-1.3zM136.2,394.5h1.3v1.3h-1.3zM136.9,396.3h1.3v1.3h-1.3zM136.7,398.2h1.3v1.3h-1.3zM137.6,400.0h1.3v1.3h-1.3zM138.8,401.8h1.3v1.3h-1.3zM138.0,403.8h1.3v1.3h-1.3zM138.5,405.7h1.3v1.3h-1.3zM139.6,407.4h1.3v1.3h-1.3zM138.7,409.5h1.3v1.3h-1.3zM138.6,411.4h1.3v1.3h-1.3zM140.7,413.0h1.3v1.3h-1.3zM140.1,415.0h1.3v1.3h-1.3zM140.0,417.0h1.3v1.3h-1.3zM141.1,418.7h1.3v1.3h-1.3zM141.6,420.5h1.3v1.3h-1.3zM141.7,422.5h1.3v1.3h-1.3zM141.5,424.4h1.3v1.3h-1.3zM141.5,426.3h1.3v1.3h-1.3zM142.1,428.2h1.3v1.3h-1.3zM143.3,429.9h1.3v1.3h-1.3zM142.2,432.0h1.3v1.3h-1.3zM142.3,433.9h1.3v1.3h-1.3zM144.1,435.5h1.3v1.3h-1.3zM144.2,437.4h1.3v1.3h-1.3zM144.8,439.2h1.3v1.3h-1.3zM144.1,441.3h1.3v1.3h-1.3zM144.5,443.2h1.3v1.3h-1.3zM146.3,444.7h1.3v1.3h-1.3zM146.3,446.7h1.3v1.3h-1.3zM147.0,448.5h1.3v1.3h-1.3zM147.0,450.4h1.3v1.3h-1.3zM146.9,452.4h1.3v1.3h-1.3zM148.4,454.0h1.3v1.3h-1.3zM148.8,455.8h1.3v1.3h-1.3zM149.2,457.7h1.3v1.3h-1.3zM149.9,459.5h1.3v1.3h-1.3zM150.4,461.3h1.3v1.3h-1.3zM152.0,462.5h1.3v1.3h-1.3zM153.5,463.7h1.3v1.3h-1.3zM155.0,464.6h1.3v1.3h-1.3z" fill="#1a1a1a"/>
<path d="M283.7,348.1h1.3v1.3h-1.3zM285.1,346.8h1.3v1.3h-1.3zM286.2,345.2h1.3v1.3h-1.3zM287.9,344.2h1.3v1.3h-1.3zM288.8,342.5h1.3v1.3h-1.3zM290.4,341.3h1.3v1.3h-1.3zM290.5,339.2h1.3v1.3h-1.3zM292.2,338.0h1.3v1.3h-1.3zM292.3,335.9h1.3v1.3h-1.3zM293.6,334.4h1.3v1.3h-1.3zM294.9,332.9h1.3v1.3h-1.3zM295.7,331.2h1.3v1.3h-1.3zM296.0,329.3h1.3v1.3h-1.3zM296.5,327.5h1.3v1.3h-1.3zM297.2,325.8h1.3v1.3h-1.3zM297.4,323.8h1.3v1.3h-1.3zM298.2,322.1h1.3v1.3h-1.3zM298.6,320.2h1.3v1.3h-1.3zM299.7,318.6h1.3v1.3h-1.3zM300.0,316.7h1.3v1.3h-1.3zM301.0,315.0h1.3v1.3h-1.3zM300.9,313.0h1.3v1.3h-1.3zM301.0,311.0h1.3v1.3h-1.3zM302.1,309.4h1.3v1.3h-1.3zM303.4,307.8h1.3v1.3h-1.3zM302.8,305.7h1.3v1.3h-1.3zM303.6,303.9h1.3v1.3h-1.3zM304.8,302.2h1.3v1.3h-1.3zM304.3,300.2h1.3v1.3h-1.3zM305.7,298.5h1.3v1.3h-1.3zM306.0,296.6h1.3v1.3h-1.3zM304.8,294.5h1.3v1.3h-1.3zM306.1,292.8h1.3v1.3h-1.3zM305.1,290.7h1.3v1.3h-1.3zM305.2,288.8h1.3v1.3h-1.3zM306.3,287.0h1.3v1.3h-1.3zM307.1,285.2h1.3v1.3h-1.3zM308.3,283.6h1.3v1.3h-1.3zM306.6,281.3h1.3v1.3h-1.3zM308.5,279.7h1.3v1.3h-1.3zM308.3,277.7h1.3v1.3h-1.3zM307.8,275.7h1.3v1.3h-1.3zM310.2,274.2h1.3v1.3h-1.3zM309.8,272.2h1.3v1.3h-1.3zM308.6,270.1h1.3v1.3h-1.3zM310.9,268.5h1.3v1.3h-1.3zM309.1,266.3h1.3v1.3h-1.3zM309.4,264.4h1.3v1.3h-1.3zM310.3,262.7h1.3v1.3h-1.3zM312.1,261.1h1.3v1.3h-1.3zM310.3,258.8h1.3v1.3h-1.3zM313.0,257.5h1.3v1.3h-1.3zM312.7,255.4h1.3v1.3h-1.3zM311.9,253.0h1.3v1.3h-1.3zM313.7,251.8h1.3v1.3h-1.3zM314.3,250.0h1.3v1.3h-1.3zM315.9,249.5h1.3v1.3h-1.3zM316.9,250.5h1.3v1.3h-1.3zM317.6,250.4h1.3v1.3h-1.3zM317.5,252.5h1.3v1.3h-1.3zM319.8,253.4h1.3v1.3h-1.3zM318.5,255.8h1.3v1.3h-1.3zM319.8,257.4h1.3v1.3h-1.3zM319.4,259.5h1.3v1.3h-1.3zM319.9,261.3h1.3v1.3h-1.3zM320.2,263.1h1.3v1.3h-1.3zM322.5,264.5h1.3v1.3h-1.3zM322.3,266.5h1.3v1.3h-1.3zM321.3,268.6h1.3v1.3h-1.3zM321.5,270.5h1.3v1.3h-1.3zM323.2,272.2h1.3v1.3h-1.3zM321.9,274.3h1.3v1.3h-1.3zM323.4,276.0h1.3v1.3h-1.3zM323.9,277.8h1.3v1.3h-1.3zM323.3,279.8h1.3v1.3h-1.3zM324.4,281.6h1.3v1.3h-1.3zM324.7,283.4h1.3v1.3h-1.3zM325.1,285.3h1.3v1.3h-1.3zM325.3,287.2h1.3v1.3h-1.3zM326.3,289.0h1.3v1.3h-1.3zM326.7,290.8h1.3v1.3h-1.3zM325.2,293.0h1.3v1.3h-1.3zM326.0,294.8h1.3v1.3h-1.3zM326.0,296.7h1.3v1.3h-1.3zM325.9,298.6h1.3v1.3h-1.3zM327.5,300.3h1.3v1.3h-1.3zM327.8,302.2h1.3v1.3h-1.3zM328.0,304.1h1.3v1.3h-1.3zM328.2,306.0h1.3v1.3h-1.3zM327.4,308.0h1.3v1.3h-1.3zM328.6,309.8h1.3v1.3h-1.3zM328.9,311.6h1.3v1.3h-1.3zM328.7,313.6h1.3v1.3h-1.3zM330.0,315.3h1.3v1.3h-1.3zM330.5,317.1h1.3v1.3h-1.3zM329.8,319.2h1.3v1.3h-1.3zM330.1,321.1h1.3v1.3h-1.3zM331.2,322.8h1.3v1.3h-1.3zM330.9,324.8h1.3v1.3h-1.3zM332.2,326.5h1.3v1.3h-1.3zM331.9,328.5h1.3v1.3h-1.3zM331.9,330.4h1.3v1.3h-1.3zM332.9,332.1h1.3v1.3h-1.3zM333.2,334.0h1.3v1.3h-1.3zM333.3,335.9h1.3v1.3h-1.3zM333.8,337.8h1.3v1.3h-1.3zM335.0,339.3h1.3v1.3h-1.3zM335.3,341.3h1.3v1.3h-1.3zM336.6,342.6h1.3v1.3h-1.3zM337.2,344.6h1.3v1.3h-1.3zM339.2,345.2h1.3v1.3h-1.3zM340.7,346.4h1.3v1.3h-1.3zM342.3,347.3h1.3v1.3h-1.3zM343.7,348.7h1.3v1.3h-1.3z" fill="#1a1a1a"/>
<path d="M330.6,375.0h1.3v1.3h-1.3zM332.3,375.8h1.3v1.3h-1.3zM334.1,377.7h1.3v1.3h-1.3zM335.5,379.1h1.3v1.3h-1.3zM335.1,375.7h1.3v1.3h-1.3zM336.2,375.0h1.3v1.3h-1.3zM336.7,373.4h1.3v1.3h-1.3zM337.1,372.3h1.3v1.3h-1.3zM338.2,373.4h1.3v1.3h-1.3zM338.8,375.3h1.3v1.3h-1.3zM340.0,376.9h1.3v1.3h-1.3zM340.4,378.9h1.3v1.3h-1.3zM339.4,381.0h1.3v1.3h-1.3zM341.0,382.7h1.3v1.3h-1.3zM341.1,384.6h1.3v1.3h-1.3zM341.1,386.5h1.3v1.3h-1.3zM342.0,388.3h1.3v1.3h-1.3zM342.4,390.2h1.3v1.3h-1.3zM340.4,392.4h1.3v1.3h-1.3zM341.9,394.1h1.3v1.3h-1.3zM342.8,395.9h1.3v1.3h-1.3zM341.8,398.0h1.3v1.3h-1.3zM343.9,399.5h1.3v1.3h-1.3zM343.8,401.4h1.3v1.3h-1.3zM342.5,403.7h1.3v1.3h-1.3zM343.1,405.5h1.3v1.3h-1.3zM344.3,407.2h1.3v1.3h-1.3zM346.1,408.7h1.3v1.3h-1.3zM345.9,410.7h1.3v1.3h-1.3zM346.9,412.5h1.3v1.3h-1.3zM346.8,414.4h1.3v1.3h-1.3zM347.6,416.2h1.3v1.3h-1.3zM347.6,418.1h1.3v1.3h-1.3zM346.8,420.2h1.3v1.3h-1.3zM348.3,421.9h1.3v1.3h-1.3zM348.5,423.8h1.3v1.3h-1.3zM347.3,426.0h1.3v1.3h-1.3zM348.9,427.5h1.3v1.3h-1.3zM349.4,429.4h1.3v1.3h-1.3zM350.3,431.1h1.3v1.3h-1.3zM349.4,433.3h1.3v1.3h-1.3zM350.1,435.1h1.3v1.3h-1.3zM350.9,436.8h1.3v1.3h-1.3zM351.3,438.7h1.3v1.3h-1.3zM352.7,440.2h1.3v1.3h-1.3zM353.0,442.1h1.3v1.3h-1.3zM353.2,444.1h1.3v1.3h-1.3zM353.3,446.0h1.3v1.3h-1.3zM354.2,447.8h1.3v1.3h-1.3zM355.2,449.4h1.3v1.3h-1.3zM356.0,451.1h1.3v1.3h-1.3zM357.3,452.7h1.3v1.3h-1.3zM357.1,454.8h1.3v1.3h-1.3z" fill="#1a1a1a"/>
<path d="M361.0,161.2h1.3v1.3h-1.3zM361.2,163.0h1.3v1.3h-1.3zM360.2,165.4h1.3v1.3h-1.3zM360.3,167.3h1.3v1.3h-1.3zM360.9,169.0h1.3v1.3h-1.3zM363.3,169.8h1.3v1.3h-1.3zM364.4,171.4h1.3v1.3h-1.3zM364.9,173.2h1.3v1.3h-1.3zM362.9,175.5h1.3v1.3h-1.3zM362.8,177.4h1.3v1.3h-1.3zM364.7,179.1h1.3v1.3h-1.3zM363.3,181.2h1.3v1.3h-1.3zM364.7,182.9h1.3v1.3h-1.3zM365.2,184.8h1.3v1.3h-1.3zM365.1,186.7h1.3v1.3h-1.3zM366.5,188.4h1.3v1.3h-1.3zM365.7,190.4h1.3v1.3h-1.3zM366.5,192.2h1.3v1.3h-1.3zM365.7,194.3h1.3v1.3h-1.3zM366.4,196.1h1.3v1.3h-1.3zM366.0,198.1h1.3v1.3h-1.3zM366.4,200.0h1.3v1.3h-1.3zM367.8,201.6h1.3v1.3h-1.3zM368.4,203.4h1.3v1.3h-1.3zM367.8,205.6h1.3v1.3h-1.3zM369.0,207.2h1.3v1.3h-1.3zM370.3,208.8h1.3v1.3h-1.3zM371.0,210.5h1.3v1.3h-1.3zM370.3,212.8h1.3v1.3h-1.3zM371.5,214.4h1.3v1.3h-1.3zM372.9,215.9h1.3v1.3h-1.3zM373.0,217.9h1.3v1.3h-1.3zM373.7,219.7h1.3v1.3h-1.3zM374.4,221.4h1.3v1.3h-1.3zM374.9,223.3h1.3v1.3h-1.3zM376.0,224.8h1.3v1.3h-1.3z" fill="#1a1a1a"/>
<path d="M167.5,265.5h1.3v1.3h-1.3zM167.6,267.4h1.3v1.3h-1.3zM167.1,269.3h1.3v1.3h-1.3zM166.2,271.4h1.3v1.3h-1.3zM166.9,273.3h1.3v1.3h-1.3zM167.5,275.1h1.3v1.3h-1.3zM167.9,272.8h1.3v1.3h-1.3zM167.6,270.2h1.3v1.3h-1.3zM169.0,269.6h1.3v1.3h-1.3zM168.8,265.8h1.3v1.3h-1.3zM169.1,269.1h1.3v1.3h-1.3zM170.9,270.4h1.3v1.3h-1.3zM170.4,272.5h1.3v1.3h-1.3zM169.3,274.6h1.3v1.3h-1.3zM170.7,276.3h1.3v1.3h-1.3zM172.1,278.0h1.3v1.3h-1.3zM171.5,280.0h1.3v1.3h-1.3zM171.4,282.0h1.3v1.3h-1.3zM173.3,283.5h1.3v1.3h-1.3zM173.3,285.4h1.3v1.3h-1.3zM174.4,287.1h1.3v1.3h-1.3zM173.5,289.3h1.3v1.3h-1.3zM174.4,291.0h1.3v1.3h-1.3zM174.5,293.0h1.3v1.3h-1.3zM175.4,294.7h1.3v1.3h-1.3zM174.8,296.8h1.3v1.3h-1.3zM176.4,298.4h1.3v1.3h-1.3zM175.0,300.6h1.3v1.3h-1.3zM175.2,302.5h1.3v1.3h-1.3zM176.6,304.2h1.3v1.3h-1.3zM177.0,306.0h1.3v1.3h-1.3zM176.6,308.1h1.3v1.3h-1.3zM178.1,309.7h1.3v1.3h-1.3zM177.5,311.8h1.3v1.3h-1.3zM178.9,313.4h1.3v1.3h-1.3zM178.7,315.4h1.3v1.3h-1.3zM180.1,316.9h1.3v1.3h-1.3zM180.3,318.9h1.3v1.3h-1.3zM180.4,320.9h1.3v1.3h-1.3zM182.8,321.9h1.3v1.3h-1.3zM182.7,324.0h1.3v1.3h-1.3z" fill="#1a1a1a"/>
<path d="M145.4,312.5h1.3v1.3h-1.3zM145.6,310.5h1.3v1.3h-1.3zM146.0,308.7h1.3v1.3h-1.3zM145.8,306.7h1.3v1.3h-1.3zM146.7,305.0h1.3v1.3h-1.3zM147.9,303.3h1.3v1.3h-1.3zM147.2,301.2h1.3v1.3h-1.3zM148.7,299.6h1.3v1.3h-1.3zM149.5,297.7h1.3v1.3h-1.3zM149.6,295.8h1.3v1.3h-1.3zM149.5,293.9h1.3v1.3h-1.3zM149.4,292.0h1.3v1.3h-1.3zM147.9,289.9h1.3v1.3h-1.3zM150.5,288.5h1.3v1.3h-1.3zM149.1,286.2h1.3v1.3h-1.3zM151.5,284.9h1.3v1.3h-1.3zM152.4,283.2h1.3v1.3h-1.3zM152.6,281.3h1.3v1.3h-1.3zM152.6,279.4h1.3v1.3h-1.3zM151.9,277.4h1.3v1.3h-1.3zM152.9,275.6h1.3v1.3h-1.3zM152.4,273.7h1.3v1.3h-1.3zM152.2,271.7h1.3v1.3h-1.3zM152.3,269.8h1.3v1.3h-1.3zM154.3,268.1h1.3v1.3h-1.3zM154.8,266.2h1.3v1.3h-1.3zM153.0,264.2h1.3v1.3h-1.3zM152.8,262.2h1.3v1.3h-1.3zM153.7,260.4h1.3v1.3h-1.3zM153.6,258.2h1.3v1.3h-1.3zM154.3,256.0h1.3v1.3h-1.3zM154.9,257.8h1.3v1.3h-1.3zM155.6,259.5h1.3v1.3h-1.3zM156.0,261.4h1.3v1.3h-1.3zM157.0,263.1h1.3v1.3h-1.3zM156.0,265.2h1.3v1.3h-1.3zM157.2,267.0h1.3v1.3h-1.3zM157.1,268.9h1.3v1.3h-1.3zM157.1,270.8h1.3v1.3h-1.3zM156.1,272.8h1.3v1.3h-1.3zM158.0,274.5h1.3v1.3h-1.3zM156.9,276.5h1.3v1.3h-1.3zM158.1,278.3h1.3v1.3h-1.3zM156.8,280.4h1.3v1.3h-1.3zM158.3,282.1h1.3v1.3h-1.3zM158.2,283.9h1.3v1.3h-1.3zM159.2,282.2h1.3v1.3h-1.3zM158.8,280.1h1.3v1.3h-1.3zM157.4,278.1h1.3v1.3h-1.3zM157.6,276.2h1.3v1.3h-1.3zM160.0,274.4h1.3v1.3h-1.3zM157.6,272.4h1.3v1.3h-1.3zM158.4,270.5h1.3v1.3h-1.3zM160.2,268.7h1.3v1.3h-1.3zM157.9,266.7h1.3v1.3h-1.3zM158.3,264.8h1.3v1.3h-1.3zM158.6,262.9h1.3v1.3h-1.3z" fill="#1a1a1a"/>
<path d="M305.2,442.2h1.3v1.3h-1.3zM306.3,440.5h1.3v1.3h-1.3zM307.1,438.8h1.3v1.3h-1.3zM307.2,436.8h1.3v1.3h-1.3zM307.3,434.9h1.3v1.3h-1.3zM308.9,433.3h1.3v1.3h-1.3zM309.3,431.5h1.3v1.3h-1.3zM309.2,429.5h1.3v1.3h-1.3zM308.7,427.5h1.3v1.3h-1.3zM309.8,425.7h1.3v1.3h-1.3zM310.3,423.9h1.3v1.3h-1.3zM310.2,421.9h1.3v1.3h-1.3zM311.6,420.4h1.3v1.3h-1.3zM311.2,418.3h1.3v1.3h-1.3zM312.2,416.6h1.3v1.3h-1.3zM311.9,414.5h1.3v1.3h-1.3zM313.5,413.0h1.3v1.3h-1.3zM314.5,411.3h1.3v1.3h-1.3zM314.8,409.4h1.3v1.3h-1.3zM314.0,407.3h1.3v1.3h-1.3zM316.2,405.8h1.3v1.3h-1.3zM315.8,403.8h1.3v1.3h-1.3zM315.4,401.8h1.3v1.3h-1.3zM315.7,399.9h1.3v1.3h-1.3zM317.3,398.3h1.3v1.3h-1.3zM316.4,396.1h1.3v1.3h-1.3zM318.2,394.7h1.3v1.3h-1.3z" fill="#1a1a1a"/>
<path d="M180.2,319.3h1.3v1.3h-1.3zM181.7,320.6h1.3v1.3h-1.3zM182.3,322.5h1.3v1.3h-1.3zM184.0,323.6h1.3v1.3h-1.3zM185.0,325.2h1.3v1.3h-1.3zM186.3,326.6h1.3v1.3h-1.3zM186.5,328.7h1.3v1.3h-1.3zM188.1,330.0h1.3v1.3h-1.3zM188.4,332.0h1.3v1.3h-1.3zM189.5,333.5h1.3v1.3h-1.3zM189.7,335.8h1.3v1.3h-1.3zM191.6,336.3h1.3v1.3h-1.3zM194.1,335.6h1.3v1.3h-1.3zM195.3,337.2h1.3v1.3h-1.3zM197.2,337.6h1.3v1.3h-1.3zM199.2,337.9h1.3v1.3h-1.3zM200.7,339.2h1.3v1.3h-1.3zM202.6,339.6h1.3v1.3h-1.3zM204.1,341.0h1.3v1.3h-1.3zM205.9,341.5h1.3v1.3h-1.3zM207.6,342.2h1.3v1.3h-1.3zM209.5,342.3h1.3v1.3h-1.3zM211.3,342.9h1.3v1.3h-1.3zM213.2,343.3h1.3v1.3h-1.3zM215.1,343.6h1.3v1.3h-1.3zM217.0,343.3h1.3v1.3h-1.3zM218.9,343.7h1.3v1.3h-1.3zM220.9,343.3h1.3v1.3h-1.3zM222.7,343.8h1.3v1.3h-1.3zM224.5,344.6h1.3v1.3h-1.3zM226.5,344.4h1.3v1.3h-1.3zM228.2,345.4h1.3v1.3h-1.3zM230.1,345.7h1.3v1.3h-1.3zM232.0,345.8h1.3v1.3h-1.3zM233.8,346.5h1.3v1.3h-1.3zM235.7,346.3h1.3v1.3h-1.3zM237.6,347.1h1.3v1.3h-1.3zM239.5,346.7h1.3v1.3h-1.3zM241.4,346.9h1.3v1.3h-1.3zM243.2,347.7h1.3v1.3h-1.3zM245.1,347.7h1.3v1.3h-1.3z" fill="#1a1a1a"/>
<path d="M138.8,194.0h1.3v1.3h-1.3zM140.1,192.3h1.3v1.3h-1.3zM140.1,190.4h1.3v1.3h-1.3zM141.1,188.6h1.3v1.3h-1.3zM141.7,186.8h1.3v1.3h-1.3zM142.1,184.9h1.3v1.3h-1.3zM140.2,182.9h1.3v1.3h-1.3zM141.6,181.1h1.3v1.3h-1.3zM142.7,179.2h1.3v1.3h-1.3zM141.5,177.2h1.3v1.3h-1.3zM142.4,175.4h1.3v1.3h-1.3zM140.8,173.3h1.3v1.3h-1.3zM143.1,171.7h1.3v1.3h-1.3zM142.6,169.7h1.3v1.3h-1.3zM143.7,168.0h1.3v1.3h-1.3zM143.8,166.1h1.3v1.3h-1.3zM144.5,164.3h1.3v1.3h-1.3zM142.9,162.0h1.3v1.3h-1.3zM145.0,160.6h1.3v1.3h-1.3zM144.2,158.4h1.3v1.3h-1.3zM144.8,156.6h1.3v1.3h-1.3zM145.5,154.8h1.3v1.3h-1.3zM146.4,153.1h1.3v1.3h-1.3zM146.7,151.2h1.3v1.3h-1.3zM147.7,149.5h1.3v1.3h-1.3zM145.6,147.2h1.3v1.3h-1.3zM146.4,145.3h1.3v1.3h-1.3zM147.2,143.5h1.3v1.3h-1.3zM148.9,142.2h1.3v1.3h-1.3zM148.9,140.1h1.3v1.3h-1.3zM150.0,140.0h1.3v1.3h-1.3z" fill="#1a1a1a"/>
<path d="M288.2,231.2h1.3v1.3h-1.3zM290.0,230.7h1.3v1.3h-1.3zM291.8,230.0h1.3v1.3h-1.3zM293.6,229.5h1.3v1.3h-1.3zM295.3,228.7h1.3v1.3h-1.3zM297.1,228.0h1.3v1.3h-1.3zM298.5,226.7h1.3v1.3h-1.3zM299.7,225.2h1.3v1.3h-1.3zM301.3,224.1h1.3v1.3h-1.3zM302.3,222.5h1.3v1.3h-1.3zM303.6,221.2h1.3v1.3h-1.3zM305.0,219.9h1.3v1.3h-1.3zM306.4,218.6h1.3v1.3h-1.3zM306.6,216.4h1.3v1.3h-1.3zM307.5,214.7h1.3v1.3h-1.3zM308.8,213.3h1.3v1.3h-1.3zM310.3,212.0h1.3v1.3h-1.3zM311.3,210.5h1.3v1.3h-1.3zM312.3,208.9h1.3v1.3h-1.3zM313.5,207.4h1.3v1.3h-1.3zM313.8,205.4h1.3v1.3h-1.3zM315.3,204.0h1.3v1.3h-1.3zM315.0,201.8h1.3v1.3h-1.3zM315.5,199.9h1.3v1.3h-1.3zM317.5,198.7h1.3v1.3h-1.3zM317.3,196.6h1.3v1.3h-1.3zM319.1,195.3h1.3v1.3h-1.3z" fill="#1a1a1a"/>
<path d="M283.6,462.8h1.3v1.3h-1.3zM285.4,462.4h1.3v1.3h-1.3zM287.2,461.8h1.3v1.3h-1.3zM289.1,461.6h1.3v1.3h-1.3zM290.6,460.2h1.3v1.3h-1.3zM292.6,460.0h1.3v1.3h-1.3zM294.2,458.9h1.3v1.3h-1.3zM295.5,457.5h1.3v1.3h-1.3zM296.9,456.2h1.3v1.3h-1.3zM298.5,455.2h1.3v1.3h-1.3zM299.1,453.3h1.3v1.3h-1.3zM299.8,451.4h1.3v1.3h-1.3zM301.0,450.0h1.3v1.3h-1.3zM301.6,448.1h1.3v1.3h-1.3zM302.6,446.5h1.3v1.3h-1.3zM303.9,445.0h1.3v1.3h-1.3zM305.3,443.6h1.3v1.3h-1.3zM306.2,441.9h1.3v1.3h-1.3zM306.1,439.8h1.3v1.3h-1.3zM307.1,438.2h1.3v1.3h-1.3zM307.7,436.4h1.3v1.3h-1.3zM309.1,434.8h1.3v1.3h-1.3zM307.9,432.6h1.3v1.3h-1.3zM309.1,430.9h1.3v1.3h-1.3zM310.3,429.2h1.3v1.3h-1.3zM309.6,427.1h1.3v1.3h-1.3zM309.6,425.2h1.3v1.3h-1.3zM310.6,423.4h1.3v1.3h-1.3zM310.4,421.4h1.3v1.3h-1.3zM312.0,419.9h1.3v1.3h-1.3zM310.7,417.6h1.3v1.3h-1.3zM311.6,415.9h1.3v1.3h-1.3zM312.0,414.0h1.3v1.3h-1.3zM314.0,412.7h1.3v1.3h-1.3zM313.6,410.5h1.3v1.3h-1.3z" fill="#1a1a1a"/>
<path d="M158.7,148.8h1.3v1.3h-1.3zM159.5,150.5h1.3v1.3h-1.3zM160.2,152.2h1.3v1.3h-1.3zM162.2,153.7h1.3v1.3h-1.3zM163.1,155.5h1.3v1.3h-1.3zM162.3,157.6h1.3v1.3h-1.3zM161.0,159.6h1.3v1.3h-1.3zM161.7,161.5h1.3v1.3h-1.3zM163.8,163.2h1.3v1.3h-1.3zM162.3,165.2h1.3v1.3h-1.3zM161.9,167.2h1.3v1.3h-1.3zM162.0,169.1h1.3v1.3h-1.3zM162.8,170.9h1.3v1.3h-1.3zM162.6,172.8h1.3v1.3h-1.3z" fill="#1a1a1a"/>
<path d="M366.6,23.4h1.3v1.3h-1.3zM366.1,21.4h1.3v1.3h-1.3zM365.8,19.5h1.3v1.3h-1.3zM366.7,17.7h1.3v1.3h-1.3zM366.0,15.7h1.3v1.3h-1.3zM366.4,13.9h1.3v1.3h-1.3zM367.2,12.0h1.3v1.3h-1.3z" fill="#1a1a1a"/>
<path d="M367.7,21.4h1.3v1.3h-1.3zM367.7,19.5h1.3v1.3h-1.3zM368.3,17.6h1.3v1.3h-1.3zM367.6,15.6h1.3v1.3h-1.3zM368.5,13.8h1.3v1.3h-1.3zM368.5,11.9h1.3v1.3h-1.3zM367.9,10.0h1.3v1.3h-1.3z" fill="#1a1a1a"/>
<path d="M368.9,21.3h1.3v1.3h-1.3zM368.7,19.4h1.3v1.3h-1.3zM369.7,17.6h1.3v1.3h-1.3zM368.9,15.6h1.3v1.3h-1.3zM368.7,13.7h1.3v1.3h-1.3zM369.8,11.9h1.3v1.3h-1.3zM369.5,10.0h1.3v1.3h-1.3z" fill="#1a1a1a"/>
<path d="M370.8,19.4h1.3v1.3h-1.3zM370.9,17.5h1.3v1.3h-1.3zM370.1,15.5h1.3v1.3h-1.3zM370.2,13.6h1.3v1.3h-1.3zM370.8,11.8h1.3v1.3h-1.3zM370.3,9.8h1.3v1.3h-1.3z" fill="#1a1a1a"/>
<path d="M151.9,141.3h1.3v1.3h-1.3zM152.1,139.4h1.3v1.3h-1.3zM152.0,137.5h1.3v1.3h-1.3zM152.0,135.7h1.3v1.3h-1.3zM151.3,133.8h1.3v1.3h-1.3zM151.5,131.8h1.3v1.3h-1.3z" fill="#1a1a1a"/>
<path d="M156.3,145.3h1.3v1.3h-1.3zM155.4,143.4h1.3v1.3h-1.3zM155.9,141.5h1.3v1.3h-1.3zM155.3,139.7h1.3v1.3h-1.3zM156.4,137.8h1.3v1.3h-1.3zM155.5,135.8h1.3v1.3h-1.3zM155.7,133.9h1.3v1.3h-1.3zM155.9,132.0h1.3v1.3h-1.3zM156.1,130.2h1.3v1.3h-1.3z" fill="#1a1a1a"/>
<path d="M157.7,261.4h1.3v1.3h-1.3zM157.5,259.5h1.3v1.3h-1.3zM157.0,257.5h1.3v1.3h-1.3zM156.7,255.6h1.3v1.3h-1.3zM157.5,253.8h1.3v1.3h-1.3zM157.9,251.9h1.3v1.3h-1.3zM156.8,249.9h1.3v1.3h-1.3z" fill="#1a1a1a"/>
<path d="M161.5,265.4h1.3v1.3h-1.3zM160.8,263.4h1.3v1.3h-1.3zM161.2,261.5h1.3v1.3h-1.3zM161.3,259.7h1.3v1.3h-1.3zM161.5,257.8h1.3v1.3h-1.3zM161.9,255.9h1.3v1.3h-1.3zM161.6,254.0h1.3v1.3h-1.3zM161.3,252.1h1.3v1.3h-1.3zM161.7,250.2h1.3v1.3h-1.3zM161.5,248.3h1.3v1.3h-1.3z" fill="#1a1a1a"/>
<path d="M163.0,261.3h1.3v1.3h-1.3zM163.0,259.4h1.3v1.3h-1.3zM163.2,257.6h1.3v1.3h-1.3zM163.0,255.6h1.3v1.3h-1.3zM163.0,253.7h1.3v1.3h-1.3zM162.9,251.8h1.3v1.3h-1.3zM163.3,250.0h1.3v1.3h-1.3z" fill="#1a1a1a"/>
<path d="M289.3,232.7h1.3v1.3h-1.3zM291.3,232.7h1.3v1.3h-1.3zM293.2,232.2h1.3v1.3h-1.3zM294.9,231.4h1.3v1.3h-1.3zM296.5,230.6h1.3v1.3h-1.3zM298.3,229.8h1.3v1.3h-1.3zM299.6,228.3h1.3v1.3h-1.3zM301.3,227.4h1.3v1.3h-1.3zM302.5,226.0h1.3v1.3h-1.3zM303.7,224.5h1.3v1.3h-1.3zM305.2,223.3h1.3v1.3h-1.3zM305.7,221.4h1.3v1.3h-1.3zM307.6,220.4h1.3v1.3h-1.3zM308.1,218.4h1.3v1.3h-1.3zM309.2,216.9h1.3v1.3h-1.3zM310.0,215.2h1.3v1.3h-1.3zM311.4,213.8h1.3v1.3h-1.3zM312.0,211.9h1.3v1.3h-1.3zM313.8,210.9h1.3v1.3h-1.3zM313.9,208.8h1.3v1.3h-1.3zM315.0,207.2h1.3v1.3h-1.3zM316.1,205.6h1.3v1.3h-1.3zM316.0,203.5h1.3v1.3h-1.3zM316.6,201.7h1.3v1.3h-1.3zM318.6,200.5h1.3v1.3h-1.3zM319.4,198.8h1.3v1.3h-1.3zM319.9,196.9h1.3v1.3h-1.3zM319.8,194.8h1.3v1.3h-1.3zM321.0,193.3h1.3v1.3h-1.3zM320.4,191.0h1.3v1.3h-1.3zM322.1,189.6h1.3v1.3h-1.3zM322.8,187.9h1.3v1.3h-1.3zM323.9,186.3h1.3v1.3h-1.3zM324.5,184.5h1.3v1.3h-1.3zM324.7,182.6h1.3v1.3h-1.3zM326.3,181.2h1.3v1.3h-1.3zM326.2,179.1h1.3v1.3h-1.3zM327.4,177.5h1.3v1.3h-1.3zM327.4,175.5h1.3v1.3h-1.3zM327.5,173.6h1.3v1.3h-1.3zM328.9,172.1h1.3v1.3h-1.3zM329.5,170.3h1.3v1.3h-1.3zM330.6,168.7h1.3v1.3h-1.3zM330.9,166.8h1.3v1.3h-1.3zM330.1,164.6h1.3v1.3h-1.3zM332.9,163.8h1.3v1.3h-1.3zM332.4,161.5h1.3v1.3h-1.3zM334.2,160.2h1.3v1.3h-1.3zM334.1,158.1h1.3v1.3h-1.3zM334.5,156.3h1.3v1.3h-1.3zM335.5,154.6h1.3v1.3h-1.3zM336.2,152.8h1.3v1.3h-1.3zM336.8,151.0h1.3v1.3h-1.3zM336.9,149.1h1.3v1.3h-1.3zM337.2,147.2h1.3v1.3h-1.3zM336.6,145.1h1.3v1.3h-1.3zM337.5,143.5h1.3v1.3h-1.3zM337.3,142.5h1.3v1.3h-1.3zM339.0,144.4h1.3v1.3h-1.3zM339.7,143.0h1.3v1.3h-1.3zM340.8,141.6h1.3v1.3h-1.3zM341.8,138.5h1.3v1.3h-1.3zM342.6,139.2h1.3v1.3h-1.3zM343.0,140.3h1.3v1.3h-1.3zM343.6,142.6h1.3v1.3h-1.3zM343.6,143.3h1.3v1.3h-1.3zM344.8,142.6h1.3v1.3h-1.3zM345.7,140.7h1.3v1.3h-1.3zM344.6,138.5h1.3v1.3h-1.3zM344.3,136.6h1.3v1.3h-1.3zM345.9,134.9h1.3v1.3h-1.3zM344.9,132.6h1.3v1.3h-1.3zM347.0,131.6h1.3v1.3h-1.3zM345.7,128.5h1.3v1.3h-1.3zM347.8,128.3h1.3v1.3h-1.3zM349.4,129.0h1.3v1.3h-1.3zM350.4,130.3h1.3v1.3h-1.3zM350.3,132.6h1.3v1.3h-1.3zM350.7,134.4h1.3v1.3h-1.3zM350.3,136.6h1.3v1.3h-1.3zM350.4,138.7h1.3v1.3h-1.3zM352.5,139.8h1.3v1.3h-1.3zM352.8,141.7h1.3v1.3h-1.3zM355.7,142.3h1.3v1.3h-1.3zM355.3,144.5h1.3v1.3h-1.3zM356.3,146.2h1.3v1.3h-1.3zM357.1,148.0h1.3v1.3h-1.3zM355.9,150.1h1.3v1.3h-1.3zM356.3,152.0h1.3v1.3h-1.3zM358.1,153.7h1.3v1.3h-1.3zM357.9,155.6h1.3v1.3h-1.3zM356.7,157.6h1.3v1.3h-1.3zM356.5,159.6h1.3v1.3h-1.3zM357.7,161.4h1.3v1.3h-1.3zM357.3,163.4h1.3v1.3h-1.3zM357.4,165.4h1.3v1.3h-1.3zM358.4,167.1h1.3v1.3h-1.3zM359.1,168.8h1.3v1.3h-1.3zM361.7,169.6h1.3v1.3h-1.3zM361.9,171.4h1.3v1.3h-1.3zM361.4,173.4h1.3v1.3h-1.3zM360.7,175.4h1.3v1.3h-1.3zM362.4,177.1h1.3v1.3h-1.3zM362.3,179.0h1.3v1.3h-1.3zM363.4,180.8h1.3v1.3h-1.3zM362.0,182.9h1.3v1.3h-1.3zM362.9,184.7h1.3v1.3h-1.3zM362.4,186.7h1.3v1.3h-1.3zM363.9,188.4h1.3v1.3h-1.3zM363.2,190.4h1.3v1.3h-1.3zM363.5,192.3h1.3v1.3h-1.3zM364.2,194.1h1.3v1.3h-1.3zM365.0,195.9h1.3v1.3h-1.3zM364.9,197.8h1.3v1.3h-1.3zM364.6,199.8h1.3v1.3h-1.3zM366.0,201.4h1.3v1.3h-1.3zM366.7,203.2h1.3v1.3h-1.3zM366.5,205.2h1.3v1.3h-1.3zM367.5,206.9h1.3v1.3h-1.3zM367.1,209.0h1.3v1.3h-1.3zM367.8,210.8h1.3v1.3h-1.3zM368.3,212.7h1.3v1.3h-1.3zM369.1,214.4h1.3v1.3h-1.3zM370.1,216.1h1.3v1.3h-1.3zM371.3,217.6h1.3v1.3h-1.3zM371.2,219.7h1.3v1.3h-1.3zM372.1,221.4h1.3v1.3h-1.3zM373.0,223.1h1.3v1.3h-1.3zM374.2,224.6h1.3v1.3h-1.3zM375.1,226.3h1.3v1.3h-1.3zM376.6,227.6h1.3v1.3h-1.3zM377.5,229.2h1.3v1.3h-1.3zM379.0,230.5h1.3v1.3h-1.3zM380.6,231.5h1.3v1.3h-1.3zM382.2,232.5h1.3v1.3h-1.3zM384.1,232.7h1.3v1.3h-1.3z" fill="#1a1a1a"/>
<path d="M289.3,232.8h1.3v1.3h-1.3zM291.2,232.3h1.3v1.3h-1.3zM293.0,231.9h1.3v1.3h-1.3zM295.0,231.8h1.3v1.3h-1.3zM296.6,230.7h1.3v1.3h-1.3zM298.2,229.6h1.3v1.3h-1.3zM299.9,228.7h1.3v1.3h-1.3zM301.1,227.2h1.3v1.3h-1.3zM302.5,226.0h1.3v1.3h-1.3zM303.2,224.1h1.3v1.3h-1.3zM304.7,222.9h1.3v1.3h-1.3zM306.5,221.9h1.3v1.3h-1.3zM306.7,219.7h1.3v1.3h-1.3zM308.2,218.5h1.3v1.3h-1.3zM309.2,216.9h1.3v1.3h-1.3zM309.9,215.1h1.3v1.3h-1.3zM311.3,213.7h1.3v1.3h-1.3zM312.1,212.0h1.3v1.3h-1.3zM313.3,210.6h1.3v1.3h-1.3zM314.3,209.0h1.3v1.3h-1.3zM314.5,207.0h1.3v1.3h-1.3zM315.4,205.3h1.3v1.3h-1.3zM316.2,203.6h1.3v1.3h-1.3zM318.2,202.4h1.3v1.3h-1.3zM317.9,200.1h1.3v1.3h-1.3zM318.5,198.2h1.3v1.3h-1.3zM320.1,197.6h1.3v1.3h-1.3zM320.9,195.8h1.3v1.3h-1.3zM323.6,197.5h1.3v1.3h-1.3zM325.3,197.5h1.3v1.3h-1.3zM327.1,197.3h1.3v1.3h-1.3zM327.8,195.6h1.3v1.3h-1.3zM328.0,193.6h1.3v1.3h-1.3zM328.4,191.9h1.3v1.3h-1.3zM329.0,190.2h1.3v1.3h-1.3zM329.6,188.4h1.3v1.3h-1.3zM329.8,186.6h1.3v1.3h-1.3zM331.1,184.8h1.3v1.3h-1.3zM330.3,182.8h1.3v1.3h-1.3zM331.5,181.2h1.3v1.3h-1.3zM331.5,179.3h1.3v1.3h-1.3zM330.8,177.0h1.3v1.3h-1.3zM332.5,175.6h1.3v1.3h-1.3zM332.3,173.4h1.3v1.3h-1.3zM333.1,171.7h1.3v1.3h-1.3zM336.5,171.5h1.3v1.3h-1.3zM336.5,169.4h1.3v1.3h-1.3zM336.7,167.4h1.3v1.3h-1.3zM337.0,165.4h1.3v1.3h-1.3zM339.2,164.6h1.3v1.3h-1.3zM339.9,162.8h1.3v1.3h-1.3zM340.0,160.7h1.3v1.3h-1.3zM342.6,160.0h1.3v1.3h-1.3zM342.5,157.8h1.3v1.3h-1.3zM344.5,156.8h1.3v1.3h-1.3zM344.4,154.6h1.3v1.3h-1.3zM345.0,152.8h1.3v1.3h-1.3zM345.8,151.3h1.3v1.3h-1.3zM347.5,152.2h1.3v1.3h-1.3zM348.4,153.9h1.3v1.3h-1.3zM349.7,154.8h1.3v1.3h-1.3zM352.5,155.3h1.3v1.3h-1.3zM351.7,157.7h1.3v1.3h-1.3zM352.7,159.4h1.3v1.3h-1.3zM353.3,161.3h1.3v1.3h-1.3zM353.3,163.2h1.3v1.3h-1.3zM353.4,165.1h1.3v1.3h-1.3zM351.9,167.4h1.3v1.3h-1.3zM352.7,169.2h1.3v1.3h-1.3zM353.1,171.7h1.3v1.3h-1.3zM354.3,170.5h1.3v1.3h-1.3zM353.9,168.1h1.3v1.3h-1.3zM354.4,166.3h1.3v1.3h-1.3zM355.0,164.5h1.3v1.3h-1.3zM355.1,162.3h1.3v1.3h-1.3zM356.0,161.8h1.3v1.3h-1.3zM356.0,164.2h1.3v1.3h-1.3zM358.3,165.3h1.3v1.3h-1.3zM358.0,167.4h1.3v1.3h-1.3zM357.6,169.4h1.3v1.3h-1.3zM357.3,171.3h1.3v1.3h-1.3zM357.5,173.2h1.3v1.3h-1.3zM357.5,175.1h1.3v1.3h-1.3zM359.2,176.8h1.3v1.3h-1.3zM359.2,178.7h1.3v1.3h-1.3zM359.0,180.6h1.3v1.3h-1.3zM359.7,182.3h1.3v1.3h-1.3zM359.4,184.4h1.3v1.3h-1.3zM360.0,186.2h1.3v1.3h-1.3zM361.9,187.4h1.3v1.3h-1.3zM363.6,188.8h1.3v1.3h-1.3zM363.3,190.9h1.3v1.3h-1.3zM362.5,193.1h1.3v1.3h-1.3zM362.6,195.0h1.3v1.3h-1.3zM364.1,196.4h1.3v1.3h-1.3zM365.0,198.1h1.3v1.3h-1.3zM365.4,200.0h1.3v1.3h-1.3zM365.3,202.0h1.3v1.3h-1.3zM365.4,203.9h1.3v1.3h-1.3zM366.9,205.5h1.3v1.3h-1.3zM367.6,207.2h1.3v1.3h-1.3zM368.5,208.9h1.3v1.3h-1.3zM369.0,210.8h1.3v1.3h-1.3zM368.5,212.9h1.3v1.3h-1.3zM369.5,214.6h1.3v1.3h-1.3zM369.7,216.6h1.3v1.3h-1.3zM371.6,217.8h1.3v1.3h-1.3zM371.9,219.8h1.3v1.3h-1.3zM372.1,221.8h1.3v1.3h-1.3zM373.3,223.3h1.3v1.3h-1.3zM374.9,224.6h1.3v1.3h-1.3zM375.7,226.3h1.3v1.3h-1.3zM376.6,228.0h1.3v1.3h-1.3zM377.8,229.5h1.3v1.3h-1.3zM379.2,230.7h1.3v1.3h-1.3zM380.9,231.6h1.3v1.3h-1.3zM382.2,233.0h1.3v1.3h-1.3zM384.3,232.9h1.3v1.3h-1.3z" fill="#1a1a1a"/>
<path d="M321.6,192.1h1.2v1.2h-1.2zM321.3,194.7h1.2v1.2h-1.2zM322.7,188.0h1.2v1.2h-1.2zM322.8,190.6h1.2v1.2h-1.2zM322.8,193.2h1.2v1.2h-1.2zM322.9,195.8h1.2v1.2h-1.2zM324.3,185.8h1.2v1.2h-1.2zM324.6,188.4h1.2v1.2h-1.2zM324.1,191.0h1.2v1.2h-1.2zM324.2,193.6h1.2v1.2h-1.2zM324.6,196.2h1.2v1.2h-1.2zM325.8,182.5h1.2v1.2h-1.2zM325.7,185.1h1.2v1.2h-1.2zM325.8,187.7h1.2v1.2h-1.2zM325.6,190.3h1.2v1.2h-1.2zM326.0,192.9h1.2v1.2h-1.2zM326.0,195.5h1.2v1.2h-1.2zM326.9,177.6h1.2v1.2h-1.2zM327.4,180.2h1.2v1.2h-1.2zM327.1,182.8h1.2v1.2h-1.2zM327.3,185.4h1.2v1.2h-1.2zM327.4,188.0h1.2v1.2h-1.2zM327.4,190.6h1.2v1.2h-1.2zM327.4,193.2h1.2v1.2h-1.2zM327.2,195.8h1.2v1.2h-1.2zM328.6,175.8h1.2v1.2h-1.2zM328.5,178.4h1.2v1.2h-1.2zM328.6,181.0h1.2v1.2h-1.2zM328.5,183.6h1.2v1.2h-1.2zM328.8,186.2h1.2v1.2h-1.2zM328.8,188.8h1.2v1.2h-1.2zM328.4,191.4h1.2v1.2h-1.2zM329.9,166.9h1.2v1.2h-1.2zM330.0,169.5h1.2v1.2h-1.2zM330.3,172.1h1.2v1.2h-1.2zM330.3,174.7h1.2v1.2h-1.2zM330.3,177.3h1.2v1.2h-1.2zM330.1,179.9h1.2v1.2h-1.2zM330.1,182.5h1.2v1.2h-1.2zM329.9,185.1h1.2v1.2h-1.2zM329.9,187.7h1.2v1.2h-1.2zM331.6,164.8h1.2v1.2h-1.2zM331.3,167.4h1.2v1.2h-1.2zM331.1,170.0h1.2v1.2h-1.2zM331.3,172.6h1.2v1.2h-1.2zM331.3,175.2h1.2v1.2h-1.2zM331.5,177.8h1.2v1.2h-1.2zM332.6,162.5h1.2v1.2h-1.2zM333.0,165.1h1.2v1.2h-1.2zM333.0,167.7h1.2v1.2h-1.2zM332.9,170.3h1.2v1.2h-1.2zM332.8,172.9h1.2v1.2h-1.2zM334.4,159.5h1.2v1.2h-1.2zM334.4,162.1h1.2v1.2h-1.2zM334.2,164.7h1.2v1.2h-1.2zM334.0,167.3h1.2v1.2h-1.2zM334.0,169.9h1.2v1.2h-1.2zM335.5,155.7h1.2v1.2h-1.2zM335.3,158.3h1.2v1.2h-1.2zM335.5,160.9h1.2v1.2h-1.2zM335.6,163.5h1.2v1.2h-1.2zM335.5,166.1h1.2v1.2h-1.2zM335.5,168.7h1.2v1.2h-1.2zM336.9,145.8h1.2v1.2h-1.2zM337.1,148.4h1.2v1.2h-1.2zM337.0,151.0h1.2v1.2h-1.2zM336.8,153.6h1.2v1.2h-1.2zM337.2,156.2h1.2v1.2h-1.2zM337.0,158.8h1.2v1.2h-1.2zM337.0,161.4h1.2v1.2h-1.2zM337.1,164.0h1.2v1.2h-1.2zM337.2,166.6h1.2v1.2h-1.2zM337.2,169.2h1.2v1.2h-1.2zM338.5,145.8h1.2v1.2h-1.2zM338.5,148.4h1.2v1.2h-1.2zM338.2,151.0h1.2v1.2h-1.2zM338.5,153.6h1.2v1.2h-1.2zM338.3,156.2h1.2v1.2h-1.2zM338.3,158.8h1.2v1.2h-1.2zM338.2,161.4h1.2v1.2h-1.2zM338.3,164.0h1.2v1.2h-1.2zM339.9,143.2h1.2v1.2h-1.2zM339.9,145.8h1.2v1.2h-1.2zM340.0,148.4h1.2v1.2h-1.2zM339.6,151.0h1.2v1.2h-1.2zM339.9,153.6h1.2v1.2h-1.2zM340.0,156.2h1.2v1.2h-1.2zM339.5,158.8h1.2v1.2h-1.2zM339.6,161.4h1.2v1.2h-1.2zM341.2,141.6h1.2v1.2h-1.2zM341.0,144.2h1.2v1.2h-1.2zM341.2,146.8h1.2v1.2h-1.2zM341.1,149.4h1.2v1.2h-1.2zM341.3,152.0h1.2v1.2h-1.2zM341.2,154.6h1.2v1.2h-1.2zM341.3,157.2h1.2v1.2h-1.2zM341.0,159.8h1.2v1.2h-1.2zM342.7,140.9h1.2v1.2h-1.2zM342.7,143.5h1.2v1.2h-1.2zM342.3,146.1h1.2v1.2h-1.2zM342.9,148.7h1.2v1.2h-1.2zM342.6,151.3h1.2v1.2h-1.2zM342.5,153.9h1.2v1.2h-1.2zM342.6,156.5h1.2v1.2h-1.2zM344.0,145.2h1.2v1.2h-1.2zM343.8,147.8h1.2v1.2h-1.2zM343.9,150.4h1.2v1.2h-1.2zM343.9,153.0h1.2v1.2h-1.2zM344.2,155.6h1.2v1.2h-1.2zM345.1,137.4h1.2v1.2h-1.2zM345.4,140.0h1.2v1.2h-1.2zM345.2,142.6h1.2v1.2h-1.2zM345.1,145.2h1.2v1.2h-1.2zM345.7,147.8h1.2v1.2h-1.2zM345.3,150.4h1.2v1.2h-1.2zM346.7,130.1h1.2v1.2h-1.2zM346.5,132.7h1.2v1.2h-1.2zM347.0,135.3h1.2v1.2h-1.2zM347.1,137.9h1.2v1.2h-1.2zM346.6,140.5h1.2v1.2h-1.2zM346.8,143.1h1.2v1.2h-1.2zM346.7,145.7h1.2v1.2h-1.2zM346.6,148.3h1.2v1.2h-1.2zM346.9,150.9h1.2v1.2h-1.2zM348.4,130.7h1.2v1.2h-1.2zM348.3,133.3h1.2v1.2h-1.2zM347.9,135.9h1.2v1.2h-1.2zM348.0,138.5h1.2v1.2h-1.2zM348.2,141.1h1.2v1.2h-1.2zM348.3,143.7h1.2v1.2h-1.2zM348.1,146.3h1.2v1.2h-1.2zM348.2,148.9h1.2v1.2h-1.2zM348.4,151.5h1.2v1.2h-1.2zM349.5,130.4h1.2v1.2h-1.2zM349.5,133.0h1.2v1.2h-1.2zM349.9,135.6h1.2v1.2h-1.2zM349.4,138.2h1.2v1.2h-1.2zM349.3,140.8h1.2v1.2h-1.2zM349.5,143.4h1.2v1.2h-1.2zM349.7,146.0h1.2v1.2h-1.2zM349.4,148.6h1.2v1.2h-1.2zM349.8,151.2h1.2v1.2h-1.2zM351.1,137.2h1.2v1.2h-1.2zM350.8,139.8h1.2v1.2h-1.2zM351.2,142.4h1.2v1.2h-1.2zM350.8,145.0h1.2v1.2h-1.2zM351.1,147.6h1.2v1.2h-1.2zM351.2,150.2h1.2v1.2h-1.2zM350.9,152.8h1.2v1.2h-1.2zM352.5,140.4h1.2v1.2h-1.2zM352.4,143.0h1.2v1.2h-1.2zM352.4,145.6h1.2v1.2h-1.2zM352.6,148.2h1.2v1.2h-1.2zM352.4,150.8h1.2v1.2h-1.2zM352.4,153.4h1.2v1.2h-1.2zM352.4,156.0h1.2v1.2h-1.2zM352.4,158.6h1.2v1.2h-1.2zM352.3,161.2h1.2v1.2h-1.2zM353.7,142.1h1.2v1.2h-1.2zM353.7,144.7h1.2v1.2h-1.2zM353.6,147.3h1.2v1.2h-1.2zM354.0,149.9h1.2v1.2h-1.2zM353.6,152.5h1.2v1.2h-1.2zM353.6,155.1h1.2v1.2h-1.2zM353.8,157.7h1.2v1.2h-1.2zM353.7,160.3h1.2v1.2h-1.2zM353.6,162.9h1.2v1.2h-1.2zM353.7,165.5h1.2v1.2h-1.2zM353.8,168.1h1.2v1.2h-1.2zM353.9,170.7h1.2v1.2h-1.2zM355.4,145.8h1.2v1.2h-1.2zM355.2,148.4h1.2v1.2h-1.2zM355.2,151.0h1.2v1.2h-1.2zM355.1,153.6h1.2v1.2h-1.2zM355.0,156.2h1.2v1.2h-1.2zM355.5,158.8h1.2v1.2h-1.2zM354.9,161.4h1.2v1.2h-1.2zM355.0,164.0h1.2v1.2h-1.2zM356.7,149.9h1.2v1.2h-1.2zM356.5,152.5h1.2v1.2h-1.2zM356.9,155.1h1.2v1.2h-1.2zM356.5,157.7h1.2v1.2h-1.2zM356.7,160.3h1.2v1.2h-1.2zM356.4,162.9h1.2v1.2h-1.2zM357.8,163.8h1.2v1.2h-1.2zM357.9,166.4h1.2v1.2h-1.2zM358.2,169.0h1.2v1.2h-1.2zM358.3,171.6h1.2v1.2h-1.2zM359.6,171.1h1.2v1.2h-1.2zM359.2,173.7h1.2v1.2h-1.2zM359.1,176.3h1.2v1.2h-1.2zM359.4,178.9h1.2v1.2h-1.2zM359.1,181.5h1.2v1.2h-1.2zM360.5,172.1h1.2v1.2h-1.2zM360.7,174.7h1.2v1.2h-1.2zM360.6,177.3h1.2v1.2h-1.2zM360.5,179.9h1.2v1.2h-1.2zM360.8,182.5h1.2v1.2h-1.2zM360.5,185.1h1.2v1.2h-1.2zM362.3,182.4h1.2v1.2h-1.2zM362.1,185.0h1.2v1.2h-1.2zM363.8,192.3h1.2v1.2h-1.2zM363.5,194.9h1.2v1.2h-1.2z" fill="#1a1a1a"/>
<path d="M284.8,464.8h1.3v1.3h-1.3zM286.7,464.5h1.3v1.3h-1.3zM288.5,464.0h1.3v1.3h-1.3zM290.2,463.0h1.3v1.3h-1.3zM292.0,462.6h1.3v1.3h-1.3zM293.8,461.7h1.3v1.3h-1.3zM295.2,460.3h1.3v1.3h-1.3zM296.6,459.1h1.3v1.3h-1.3zM298.6,458.5h1.3v1.3h-1.3zM299.5,456.8h1.3v1.3h-1.3zM300.1,454.9h1.3v1.3h-1.3zM301.4,453.5h1.3v1.3h-1.3zM302.0,451.7h1.3v1.3h-1.3zM303.6,450.3h1.3v1.3h-1.3zM303.7,448.3h1.3v1.3h-1.3zM304.5,446.5h1.3v1.3h-1.3zM305.3,444.8h1.3v1.3h-1.3zM306.7,443.4h1.3v1.3h-1.3zM308.5,442.2h1.3v1.3h-1.3zM307.9,439.9h1.3v1.3h-1.3zM308.8,438.2h1.3v1.3h-1.3zM310.3,436.6h1.3v1.3h-1.3zM309.0,434.3h1.3v1.3h-1.3zM309.9,432.6h1.3v1.3h-1.3zM311.3,430.9h1.3v1.3h-1.3zM310.2,428.8h1.3v1.3h-1.3zM312.2,427.3h1.3v1.3h-1.3zM312.3,425.4h1.3v1.3h-1.3zM311.2,423.2h1.3v1.3h-1.3zM312.5,421.5h1.3v1.3h-1.3zM312.9,419.7h1.3v1.3h-1.3zM313.9,418.0h1.3v1.3h-1.3zM313.7,416.0h1.3v1.3h-1.3zM314.5,414.2h1.3v1.3h-1.3zM314.7,412.3h1.3v1.3h-1.3zM315.3,410.5h1.3v1.3h-1.3zM315.3,408.6h1.3v1.3h-1.3zM317.5,407.1h1.3v1.3h-1.3zM317.8,405.2h1.3v1.3h-1.3zM316.8,403.1h1.3v1.3h-1.3zM318.0,401.4h1.3v1.3h-1.3zM317.9,399.4h1.3v1.3h-1.3zM318.0,397.5h1.3v1.3h-1.3zM318.8,395.8h1.3v1.3h-1.3zM321.0,394.5h1.3v1.3h-1.3zM320.0,392.1h1.3v1.3h-1.3zM321.1,390.5h1.3v1.3h-1.3zM322.5,389.0h1.3v1.3h-1.3zM321.4,386.6h1.3v1.3h-1.3zM323.2,385.2h1.3v1.3h-1.3zM322.2,382.9h1.3v1.3h-1.3zM324.5,381.6h1.3v1.3h-1.3zM325.4,379.9h1.3v1.3h-1.3zM326.0,378.1h1.3v1.3h-1.3zM326.5,376.2h1.3v1.3h-1.3zM326.0,374.2h1.3v1.3h-1.3zM326.9,372.3h1.3v1.3h-1.3zM325.2,370.3h1.3v1.3h-1.3zM326.0,368.4h1.3v1.3h-1.3zM325.4,366.4h1.3v1.3h-1.3zM325.2,364.4h1.3v1.3h-1.3zM326.3,362.6h1.3v1.3h-1.3zM326.1,363.7h1.3v1.3h-1.3zM326.1,365.5h1.3v1.3h-1.3zM328.2,367.1h1.3v1.3h-1.3zM326.0,369.3h1.3v1.3h-1.3zM328.0,370.8h1.3v1.3h-1.3zM328.1,372.7h1.3v1.3h-1.3zM327.0,375.2h1.3v1.3h-1.3zM328.2,376.2h1.3v1.3h-1.3zM330.5,376.5h1.3v1.3h-1.3zM331.8,377.0h1.3v1.3h-1.3zM332.7,377.4h1.3v1.3h-1.3zM333.6,376.5h1.3v1.3h-1.3zM333.8,373.5h1.3v1.3h-1.3zM334.4,372.8h1.3v1.3h-1.3zM334.5,373.5h1.3v1.3h-1.3zM335.7,374.7h1.3v1.3h-1.3zM335.1,376.9h1.3v1.3h-1.3zM336.7,378.3h1.3v1.3h-1.3zM336.2,380.4h1.3v1.3h-1.3zM336.8,382.2h1.3v1.3h-1.3zM338.0,383.9h1.3v1.3h-1.3zM337.8,385.9h1.3v1.3h-1.3zM337.9,387.8h1.3v1.3h-1.3zM338.4,389.6h1.3v1.3h-1.3zM339.8,391.4h1.3v1.3h-1.3zM337.8,393.6h1.3v1.3h-1.3zM338.1,395.5h1.3v1.3h-1.3zM340.8,396.9h1.3v1.3h-1.3zM338.8,399.3h1.3v1.3h-1.3zM340.3,400.9h1.3v1.3h-1.3zM341.8,402.5h1.3v1.3h-1.3zM340.5,404.7h1.3v1.3h-1.3zM342.0,406.3h1.3v1.3h-1.3zM341.8,408.3h1.3v1.3h-1.3zM341.9,410.2h1.3v1.3h-1.3zM342.9,412.0h1.3v1.3h-1.3zM344.4,413.6h1.3v1.3h-1.3zM343.0,415.8h1.3v1.3h-1.3zM343.6,417.6h1.3v1.3h-1.3zM343.5,419.6h1.3v1.3h-1.3zM345.2,421.2h1.3v1.3h-1.3zM344.4,423.3h1.3v1.3h-1.3zM344.5,425.2h1.3v1.3h-1.3zM346.1,426.8h1.3v1.3h-1.3zM346.4,428.7h1.3v1.3h-1.3zM347.0,430.5h1.3v1.3h-1.3zM348.1,432.2h1.3v1.3h-1.3zM348.1,434.1h1.3v1.3h-1.3zM348.5,436.0h1.3v1.3h-1.3zM349.4,437.7h1.3v1.3h-1.3zM348.8,439.9h1.3v1.3h-1.3zM349.9,441.5h1.3v1.3h-1.3zM350.3,443.4h1.3v1.3h-1.3zM351.4,445.0h1.3v1.3h-1.3zM352.0,446.8h1.3v1.3h-1.3zM352.1,448.8h1.3v1.3h-1.3zM353.2,450.4h1.3v1.3h-1.3zM353.8,452.2h1.3v1.3h-1.3zM354.7,453.9h1.3v1.3h-1.3zM355.2,455.7h1.3v1.3h-1.3zM356.3,457.3h1.3v1.3h-1.3zM358.1,458.3h1.3v1.3h-1.3zM359.2,459.8h1.3v1.3h-1.3zM360.7,461.1h1.3v1.3h-1.3zM362.6,461.5h1.3v1.3h-1.3zM364.0,462.9h1.3v1.3h-1.3zM365.9,463.4h1.3v1.3h-1.3zM367.8,463.5h1.3v1.3h-1.3zM369.6,464.1h1.3v1.3h-1.3zM371.5,464.4h1.3v1.3h-1.3zM373.4,464.4h1.3v1.3h-1.3zM375.3,464.8h1.3v1.3h-1.3zM377.2,464.4h1.3v1.3h-1.3zM379.1,464.9h1.3v1.3h-1.3zM380.9,465.3h1.3v1.3h-1.3zM382.8,465.5h1.3v1.3h-1.3zM384.7,465.4h1.3v1.3h-1.3zM386.6,465.4h1.3v1.3h-1.3zM388.6,465.3h1.3v1.3h-1.3z" fill="#1a1a1a"/>
<path d="M284.8,464.6h1.3v1.3h-1.3zM286.6,464.3h1.3v1.3h-1.3zM288.6,464.2h1.3v1.3h-1.3zM290.3,463.4h1.3v1.3h-1.3zM292.0,462.5h1.3v1.3h-1.3zM293.8,461.7h1.3v1.3h-1.3zM295.0,460.2h1.3v1.3h-1.3zM297.0,459.6h1.3v1.3h-1.3zM298.3,458.3h1.3v1.3h-1.3zM299.5,456.8h1.3v1.3h-1.3zM300.2,454.9h1.3v1.3h-1.3zM301.3,453.4h1.3v1.3h-1.3zM302.6,452.0h1.3v1.3h-1.3zM302.5,449.8h1.3v1.3h-1.3zM303.7,448.2h1.3v1.3h-1.3zM304.9,446.7h1.3v1.3h-1.3zM306.4,445.4h1.3v1.3h-1.3zM306.6,443.4h1.3v1.3h-1.3zM308.3,442.1h1.3v1.3h-1.3zM307.9,439.9h1.3v1.3h-1.3zM308.6,438.1h1.3v1.3h-1.3zM309.5,436.4h1.3v1.3h-1.3zM310.2,434.6h1.3v1.3h-1.3zM311.0,432.8h1.3v1.3h-1.3zM311.4,431.0h1.3v1.3h-1.3zM310.5,428.9h1.3v1.3h-1.3zM311.8,427.2h1.3v1.3h-1.3zM311.9,425.3h1.3v1.3h-1.3zM311.7,423.3h1.3v1.3h-1.3zM312.8,421.6h1.3v1.3h-1.3zM313.7,419.9h1.3v1.3h-1.3zM313.4,417.9h1.3v1.3h-1.3zM315.1,416.4h1.3v1.3h-1.3zM313.9,414.0h1.3v1.3h-1.3zM314.5,412.2h1.3v1.3h-1.3zM316.4,410.8h1.3v1.3h-1.3zM315.7,408.7h1.3v1.3h-1.3zM316.8,407.0h1.3v1.3h-1.3zM317.0,405.1h1.3v1.3h-1.3zM316.5,402.9h1.3v1.3h-1.3zM318.4,401.6h1.3v1.3h-1.3zM319.2,399.9h1.3v1.3h-1.3zM318.6,397.5h1.3v1.3h-1.3zM319.9,396.0h1.3v1.3h-1.3zM322.2,395.2h1.3v1.3h-1.3zM323.6,393.8h1.3v1.3h-1.3zM324.6,392.2h1.3v1.3h-1.3zM324.4,389.9h1.3v1.3h-1.3zM324.8,387.9h1.3v1.3h-1.3zM325.7,386.2h1.3v1.3h-1.3zM327.2,384.7h1.3v1.3h-1.3zM329.1,385.3h1.3v1.3h-1.3zM331.1,385.6h1.3v1.3h-1.3zM333.0,386.6h1.3v1.3h-1.3zM333.6,388.5h1.3v1.3h-1.3zM334.8,390.0h1.3v1.3h-1.3zM334.3,392.3h1.3v1.3h-1.3zM334.1,394.4h1.3v1.3h-1.3zM334.6,396.2h1.3v1.3h-1.3zM334.2,398.3h1.3v1.3h-1.3zM334.9,400.1h1.3v1.3h-1.3zM336.4,401.6h1.3v1.3h-1.3zM336.7,403.7h1.3v1.3h-1.3zM338.5,404.8h1.3v1.3h-1.3zM339.2,406.5h1.3v1.3h-1.3zM341.8,406.9h1.3v1.3h-1.3zM342.3,408.7h1.3v1.3h-1.3zM341.6,411.0h1.3v1.3h-1.3zM342.9,412.4h1.3v1.3h-1.3zM343.4,414.2h1.3v1.3h-1.3zM343.1,416.2h1.3v1.3h-1.3zM344.6,417.9h1.3v1.3h-1.3zM343.7,420.0h1.3v1.3h-1.3zM345.8,421.5h1.3v1.3h-1.3zM345.6,423.5h1.3v1.3h-1.3zM346.1,425.3h1.3v1.3h-1.3zM346.4,427.2h1.3v1.3h-1.3zM345.5,429.4h1.3v1.3h-1.3zM347.7,430.8h1.3v1.3h-1.3zM347.6,432.7h1.3v1.3h-1.3zM347.6,434.7h1.3v1.3h-1.3zM347.9,436.6h1.3v1.3h-1.3zM348.4,438.5h1.3v1.3h-1.3zM349.6,440.1h1.3v1.3h-1.3zM350.4,441.8h1.3v1.3h-1.3zM350.1,443.9h1.3v1.3h-1.3zM351.8,445.3h1.3v1.3h-1.3zM352.5,447.1h1.3v1.3h-1.3zM353.0,448.9h1.3v1.3h-1.3zM353.3,450.8h1.3v1.3h-1.3zM353.6,452.8h1.3v1.3h-1.3zM354.5,454.5h1.3v1.3h-1.3zM355.5,456.1h1.3v1.3h-1.3zM356.9,457.4h1.3v1.3h-1.3zM358.1,458.9h1.3v1.3h-1.3zM359.5,460.2h1.3v1.3h-1.3zM361.2,461.0h1.3v1.3h-1.3zM363.0,461.7h1.3v1.3h-1.3zM364.6,462.6h1.3v1.3h-1.3zM366.2,463.8h1.3v1.3h-1.3zM368.1,463.9h1.3v1.3h-1.3zM370.0,464.2h1.3v1.3h-1.3zM372.0,463.8h1.3v1.3h-1.3zM373.8,464.7h1.3v1.3h-1.3zM375.7,464.5h1.3v1.3h-1.3zM377.6,465.1h1.3v1.3h-1.3zM379.5,465.0h1.3v1.3h-1.3zM381.4,465.2h1.3v1.3h-1.3zM383.3,465.5h1.3v1.3h-1.3zM385.2,465.4h1.3v1.3h-1.3zM387.1,465.5h1.3v1.3h-1.3zM389.0,465.2h1.3v1.3h-1.3z" fill="#1a1a1a"/>
<path d="M319.7,396.1h1.2v1.2h-1.2zM321.0,389.8h1.2v1.2h-1.2zM321.2,392.4h1.2v1.2h-1.2zM321.1,395.0h1.2v1.2h-1.2zM322.4,386.7h1.2v1.2h-1.2zM322.3,389.3h1.2v1.2h-1.2zM322.9,391.9h1.2v1.2h-1.2zM324.0,382.1h1.2v1.2h-1.2zM323.8,384.7h1.2v1.2h-1.2zM323.8,387.3h1.2v1.2h-1.2zM323.9,389.9h1.2v1.2h-1.2zM325.1,377.9h1.2v1.2h-1.2zM325.6,380.5h1.2v1.2h-1.2zM325.7,383.1h1.2v1.2h-1.2zM325.4,385.7h1.2v1.2h-1.2zM326.6,366.0h1.2v1.2h-1.2zM326.6,368.6h1.2v1.2h-1.2zM326.7,371.2h1.2v1.2h-1.2zM327.0,373.8h1.2v1.2h-1.2zM326.5,376.4h1.2v1.2h-1.2zM327.0,379.0h1.2v1.2h-1.2zM326.9,381.6h1.2v1.2h-1.2zM326.5,384.2h1.2v1.2h-1.2zM328.3,375.8h1.2v1.2h-1.2zM328.3,378.4h1.2v1.2h-1.2zM328.1,381.0h1.2v1.2h-1.2zM328.4,383.6h1.2v1.2h-1.2zM329.6,376.1h1.2v1.2h-1.2zM329.4,378.7h1.2v1.2h-1.2zM329.7,381.3h1.2v1.2h-1.2zM329.4,383.9h1.2v1.2h-1.2zM331.2,376.7h1.2v1.2h-1.2zM331.0,379.3h1.2v1.2h-1.2zM331.1,381.9h1.2v1.2h-1.2zM331.1,384.5h1.2v1.2h-1.2zM332.2,379.6h1.2v1.2h-1.2zM332.5,382.2h1.2v1.2h-1.2zM332.2,384.8h1.2v1.2h-1.2zM333.8,375.0h1.2v1.2h-1.2zM333.6,377.6h1.2v1.2h-1.2zM333.6,380.2h1.2v1.2h-1.2zM333.9,382.8h1.2v1.2h-1.2zM333.9,385.4h1.2v1.2h-1.2zM333.7,388.0h1.2v1.2h-1.2zM335.0,374.5h1.2v1.2h-1.2zM335.2,377.1h1.2v1.2h-1.2zM335.2,379.7h1.2v1.2h-1.2zM335.5,382.3h1.2v1.2h-1.2zM334.9,384.9h1.2v1.2h-1.2zM335.4,387.5h1.2v1.2h-1.2zM335.5,390.1h1.2v1.2h-1.2zM335.1,392.7h1.2v1.2h-1.2zM335.3,395.3h1.2v1.2h-1.2zM336.7,381.2h1.2v1.2h-1.2zM336.5,383.8h1.2v1.2h-1.2zM336.7,386.4h1.2v1.2h-1.2zM336.8,389.0h1.2v1.2h-1.2zM336.4,391.6h1.2v1.2h-1.2zM336.6,394.2h1.2v1.2h-1.2zM336.3,396.8h1.2v1.2h-1.2zM336.8,399.4h1.2v1.2h-1.2zM337.7,388.1h1.2v1.2h-1.2zM338.1,390.7h1.2v1.2h-1.2zM338.1,393.3h1.2v1.2h-1.2zM337.8,395.9h1.2v1.2h-1.2zM338.0,398.5h1.2v1.2h-1.2zM338.1,401.1h1.2v1.2h-1.2zM337.9,403.7h1.2v1.2h-1.2zM339.7,396.7h1.2v1.2h-1.2zM339.5,399.3h1.2v1.2h-1.2zM339.4,401.9h1.2v1.2h-1.2zM339.1,404.5h1.2v1.2h-1.2zM341.0,402.7h1.2v1.2h-1.2zM340.9,405.3h1.2v1.2h-1.2z" fill="#1a1a1a"/>
<path d="M55.7,120.3 L55.9,119.8 L56.3,119.2 L56.5,118.7 L56.7,118.1 L56.8,117.5 L57.0,117.0 L57.0,116.3 L57.2,115.8 L57.3,115.2 L57.4,114.6 L57.5,114.0 L57.7,113.4 L57.7,112.8 L58.1,112.3 L58.1,111.7 L58.5,111.2 L58.6,110.6 L58.9,110.0 L58.9,109.4 L59.3,108.9 L59.4,108.3 L59.7,107.8 L59.7,107.2 L59.9,106.6 L59.9,106.0 L60.2,105.4 L60.1,104.8 L60.4,104.3 L60.4,103.6 L60.7,103.1 L60.6,102.5 L61.0,101.9 L60.9,101.3 L61.2,100.7 L61.0,100.1 L61.4,99.5 L61.2,98.9 L61.5,98.4 L61.4,97.7 L61.7,97.2 L61.6,96.5 L62.0,96.0 L61.8,95.3 L62.1,94.8 L62.0,94.2 L62.3,93.6 L62.2,93.0 L62.5,92.4 L62.3,91.8 L62.6,91.2 L62.5,90.6 L62.8,90.0 L62.5,89.4 L62.9,88.8 L62.7,88.2 L63.0,87.7 L62.8,87.0 L63.2,86.5 L63.0,85.8 L63.3,85.3 L63.2,84.6 L63.4,84.1 L63.3,83.4 L63.7,82.9 L63.4,82.2 L63.8,81.7 L63.6,81.1 L64.0,80.5 L63.7,79.9 L64.3,79.3 L64.0,78.7 L64.4,78.2 L64.1,77.5 L64.6,77.0 L64.3,76.3 L64.8,75.8 L64.5,75.1 L64.9,74.6 L64.7,73.9 L65.2,73.4 L65.0,72.8 L65.3,72.2 L65.1,71.6 L65.4,71.0 L65.3,70.4 L65.7,69.9 L65.5,69.2 L65.9,68.7 L65.8,68.0 L66.1,67.5 L65.9,66.8 L66.2,66.3 L66.1,65.7 L66.6,65.1 L66.4,64.5 L66.7,63.9 L66.4,63.3 L67.0,62.8 L66.6,62.1 L67.0,61.6 L66.8,60.9 L67.3,60.4 L67.1,59.8 L67.5,59.2 L67.2,58.5 L67.7,58.0 L67.4,57.4 L67.8,56.8 L67.5,56.2 L68.1,55.7 L67.8,55.0 L68.2,54.5 L68.0,53.8 L68.4,53.3 L68.2,52.6 L68.5,52.1 L68.4,51.4 L68.7,50.9 L68.6,50.3 L68.8,49.7 L68.6,49.1 L69.0,48.5 L68.8,47.9 L69.3,47.3 L69.0,46.7 L69.4,46.1 L69.2,45.5 L69.6,45.0 L69.3,44.3 L69.8,43.8 L69.6,43.1 L70.1,42.6 L69.8,42.0 L70.3,41.4 L70.1,40.8 L70.5,40.2 L70.3,39.6 L70.7,39.1 L70.3,38.4 L70.7,37.9 L70.4,37.2 L70.8,36.7 L70.6,36.0 L70.9,35.5 L70.7,34.8 L71.0,34.3 L70.8,33.7 L71.0,33.1 L70.8,32.5 L71.2,31.9 L70.9,31.3 L71.2,30.7 L70.9,30.0 L71.4,29.5 L71.1,28.9 L71.6,28.3 L71.3,27.7 L71.7,27.1 L71.3,26.5 L71.8,25.9 L71.4,25.3 L71.8,24.7 L71.7,24.1 L72.0,23.5 L71.7,22.9 L72.1,22.3 L71.9,21.7 L72.2,21.1 L72.1,20.5 L72.4,20.0 L72.3,19.3 L72.8,18.8 L72.7,18.2 L73.1,17.7 L73.0,17.0 L73.5,16.5 L73.2,15.9 L73.6,15.3 L73.4,14.7 L73.9,14.2 L73.7,13.5 L74.1,13.0 L73.9,12.3 L74.4,11.8 L74.1,11.1 L74.5,10.7 L74.4,9.9 L74.5,10.0 L74.8,10.3 L74.6,11.0 L75.1,11.5 L74.9,12.2 L75.3,12.7 L75.2,13.3 L75.6,13.9 L75.4,14.5 L75.8,15.0 L75.7,15.7 L76.1,16.2 L75.9,16.9 L76.5,17.3 L76.3,18.0 L76.9,18.5 L76.6,19.2 L77.1,19.7 L76.9,20.3 L77.3,20.9 L77.1,21.5 L77.4,22.1 L77.1,22.7 L77.6,23.2 L77.4,23.9 L77.7,24.4 L77.5,25.1 L78.0,25.6 L77.8,26.2 L78.2,26.8 L77.8,27.4 L78.3,28.0 L77.9,28.6 L78.3,29.2 L78.0,29.8 L78.4,30.4 L78.1,31.0 L78.4,31.6 L78.2,32.2 L78.4,32.8 L78.1,33.4 L78.5,34.0 L78.2,34.6 L78.6,35.2 L78.2,35.8 L78.6,36.4 L78.3,37.0 L78.8,37.6 L78.4,38.2 L79.0,38.7 L78.8,39.4 L79.2,39.9 L79.0,40.6 L79.4,41.1 L79.3,41.7 L79.8,42.3 L79.6,42.9 L79.9,43.5 L79.6,44.1 L80.0,44.7 L79.9,45.3 L80.3,45.8 L79.9,46.5 L80.4,47.0 L80.2,47.7 L80.5,48.2 L80.2,48.9 L80.8,49.4 L80.6,50.0 L80.9,50.6 L80.7,51.2 L81.1,51.8 L80.9,52.4 L81.2,53.0 L81.1,53.6 L81.4,54.2 L81.1,54.8 L81.7,55.3 L81.3,56.0 L81.8,56.5 L81.6,57.2 L81.9,57.7 L81.6,58.4 L82.2,58.9 L81.9,59.5 L82.3,60.1 L81.9,60.7 L82.5,61.3 L82.2,61.9 L82.5,62.5 L82.3,63.1 L82.6,63.7 L82.4,64.3 L82.7,64.9 L82.6,65.5 L82.9,66.1 L82.5,66.7 L83.0,67.3 L82.7,67.9 L83.0,68.5 L82.7,69.1 L83.2,69.7 L82.8,70.3 L83.1,70.9 L82.9,71.5 L83.3,72.0 L82.9,72.7 L83.4,73.2 L83.2,73.9 L83.6,74.4 L83.4,75.1 L84.0,75.5 L83.8,76.2 L84.3,76.7 L84.2,77.3 L84.6,77.9 L84.5,78.5 L85.0,79.0 L84.8,79.6 L85.2,80.2 L85.0,80.8 L85.3,81.4 L85.1,82.0 L85.4,82.6 L85.3,83.2 L85.6,83.8 L85.5,84.4 L85.8,85.0 L85.7,85.6 L86.0,86.1 L85.8,86.8 L86.1,87.3 L85.9,88.0 L86.2,88.5 L86.0,89.2 L86.3,89.7 L86.1,90.4 L86.4,90.9 L86.1,91.6 L86.4,92.1 L86.2,92.8 L86.5,93.3 L86.3,93.9 L86.5,94.5 L86.4,95.1 L86.7,95.7 L86.4,96.4 L86.8,96.9 L86.7,97.5 L87.1,98.1 L86.9,98.7 L87.3,99.2 L87.1,99.9 L87.5,100.4 L87.4,101.1 L87.8,101.6 L87.6,102.2 L88.0,102.8 L87.9,103.4 L88.2,104.0 L88.2,104.6 L88.6,105.1 L88.6,105.7 L88.9,106.3 L88.9,106.9 L89.2,107.4 L89.2,108.0 L89.6,108.5 L89.6,109.2 L89.9,109.7 L89.9,110.3 L90.3,110.8 L90.5,111.4 L90.8,111.9 L91.0,112.5 L91.4,113.0 L91.5,113.6 L91.9,114.0 L92.1,114.6 L92.5,115.1 L92.8,115.6 L93.3,116.0 L93.5,116.5 L94.0,116.9 L94.3,117.5 L94.8,117.8 L95.1,118.4 L95.6,118.7 L96.1,119.1 L96.6,119.4" fill="none" stroke="#111" stroke-width="1.45" stroke-linejoin="round"/>
<path d="M280.2,116.2 L279.7,115.4 L280.8,115.1 L280.3,114.3 L281.1,114.0 L280.6,113.2 L281.7,112.9 L280.8,112.0 L282.1,111.8 L281.4,110.9 L282.5,110.7 L282.0,109.8 L282.9,109.6 L282.2,108.6 L283.6,108.6 L283.0,107.6 L283.8,107.4 L283.3,106.5 L284.9,106.6 L284.1,105.5 L285.4,105.5 L284.6,104.4 L286.0,104.4 L285.2,103.4 L286.2,103.2 L285.4,102.2 L286.6,102.1 L285.8,101.1 L287.1,101.0 L286.3,100.0 L287.9,100.0 L286.9,98.9 L288.4,98.9 L287.2,97.8 L288.8,97.7 L288.0,96.8 L288.8,96.5 L288.0,95.5 L289.8,95.6 L288.5,94.4 L290.3,94.5 L289.3,93.4 L290.7,93.5 L289.3,91.9 L290.9,92.4 L290.1,90.9 L291.6,91.6 L291.2,90.5 L292.8,91.2 L292.1,89.9 L293.8,90.7 L293.0,89.3 L293.9,89.3 L293.5,88.3 L295.0,88.4 L293.8,87.2 L294.9,87.0 L294.2,86.1 L295.7,86.0 L294.3,84.9 L296.4,84.9 L294.5,83.7 L296.9,83.8 L294.8,82.6 L296.7,82.5 L295.6,81.6 L297.4,81.3 L295.7,80.4 L297.3,80.1 L295.9,79.2 L297.7,78.9 L296.1,78.1 L297.6,77.7 L296.3,76.9 L298.2,76.6 L296.2,75.6 L298.2,75.4 L296.6,74.5 L298.0,74.2 L296.3,73.1 L298.7,73.2 L296.7,71.9 L299.3,72.2 L297.4,70.9 L299.1,70.8 L297.8,69.8 L299.8,69.8 L298.4,68.8 L300.3,68.6 L298.5,67.7 L300.8,67.4 L298.3,66.5 L300.3,66.1 L298.3,65.4 L300.8,64.9 L298.4,64.2 L300.6,63.7 L298.3,63.0 L300.6,62.5 L299.2,61.8 L300.4,61.3 L298.7,60.6 L300.6,60.1 L299.0,59.4 L300.6,58.9 L299.2,58.2 L300.4,57.7 L299.4,57.0 L301.0,56.6 L299.2,55.7 L300.8,55.4 L298.7,54.3 L301.2,54.4 L299.4,53.2 L301.9,53.4 L299.8,52.1 L301.8,52.1 L300.8,51.2 L303.0,51.2 L300.9,50.1 L303.2,49.9 L301.3,49.0 L302.4,48.5 L300.7,47.7 L302.9,47.3 L301.2,46.6 L303.5,46.2 L301.6,45.4 L303.7,45.0 L301.5,44.2 L303.1,43.7 L301.8,43.0 L303.4,42.6 L301.7,41.8 L303.9,41.4 L302.2,40.6 L303.2,40.2 L302.3,39.3 L303.6,39.5 L303.5,37.7 L302.2,39.6 L304.0,39.6 L302.1,40.7 L303.6,41.0 L302.6,41.8 L304.7,42.1 L302.6,42.9 L304.8,43.3 L302.6,44.2 L304.2,44.6 L303.2,45.3 L304.3,45.8 L303.0,46.6 L304.6,46.8 L303.1,48.0 L304.6,47.6 L304.0,49.6 L303.9,47.8 L304.9,47.9 L303.2,46.5 L305.0,46.6 L303.7,45.6 L305.8,45.4 L304.0,44.5 L305.9,44.2 L304.4,43.4 L306.2,43.0 L303.9,42.2 L306.0,41.8 L304.8,41.1 L305.8,40.5 L304.0,39.9 L306.1,39.3 L304.8,38.7 L306.4,38.1 L304.1,37.5 L306.4,36.9 L304.8,36.3 L306.2,35.7 L304.8,35.1 L305.9,34.5 L304.1,33.9 L306.4,33.3 L305.0,32.7 L306.8,32.2 L304.2,31.5 L306.8,31.0 L304.9,30.3 L306.2,29.7 L304.7,29.1 L306.6,28.6 L304.4,27.9 L307.0,27.4 L304.4,26.7 L306.5,26.1 L304.7,25.5 L306.3,24.9 L304.8,24.3 L306.2,23.8 L305.3,23.0 L306.3,22.8 L306.5,22.4 L305.1,23.4 L307.0,23.8 L305.4,24.5 L306.5,25.0 L304.9,25.7 L307.1,26.2 L304.9,26.9 L307.2,27.4 L305.1,28.1 L307.1,28.6 L305.0,29.3 L306.7,29.8 L305.6,30.5 L307.4,31.0 L305.7,31.7 L307.3,32.2 L305.7,32.9 L307.3,33.4 L305.2,34.1 L307.6,34.6 L305.7,35.3 L307.2,35.8 L305.4,36.5 L307.7,37.0 L305.8,37.7 L308.0,38.2 L305.6,38.9 L308.1,39.3 L305.7,40.2 L308.1,40.3 L306.0,41.7 L307.1,40.8 L307.9,42.2 L306.7,40.6 L308.1,40.5 L306.4,39.3 L308.0,39.1 L306.5,38.2 L308.9,38.0 L306.6,37.1 L308.8,36.8 L307.2,36.0 L309.4,35.6 L307.3,34.8 L309.4,34.4 L307.4,33.6 L309.0,33.1 L307.6,32.5 L308.9,31.9 L307.5,31.2 L308.9,30.7 L307.1,30.0 L309.8,29.5 L307.9,28.9 L308.9,28.3 L308.0,27.7 L309.8,27.1 L308.0,26.5 L309.6,25.9 L307.9,25.2 L309.2,24.8 L308.0,23.9 L309.7,23.8 L308.3,22.8 L309.9,22.6 L308.4,22.0 L310.4,22.4 L309.3,21.4 L311.0,21.3 L309.0,20.1 L310.8,20.0 L309.4,19.1 L311.1,18.7 L308.9,17.9 L311.3,17.5 L309.1,16.7 L311.5,16.3 L309.5,15.5 L311.5,15.1 L309.5,14.3 L311.6,13.9 L309.6,13.1 L311.4,12.7 L310.2,11.9 L312.1,11.9 L310.8,10.1 L309.9,11.8 L312.4,11.7 L310.1,12.7 L311.6,13.1 L310.0,13.8 L312.2,14.3 L310.5,15.0 L312.5,15.5 L310.4,16.2 L311.8,16.7 L310.8,17.4 L312.0,17.9 L310.4,18.6 L312.6,18.9 L310.9,19.9 L311.8,20.1 L310.7,21.6 L312.2,20.3 L311.3,21.0 L313.1,19.0 L311.5,20.2 L313.7,17.9 L311.8,20.2 L313.2,19.9 L312.3,20.8 L313.8,21.1 L311.5,22.0 L313.4,22.4 L312.1,23.1 L313.8,23.6 L312.2,24.3 L313.8,24.8 L312.4,25.5 L313.8,25.9 L312.7,26.7 L314.2,27.0 L312.5,28.1 L314.5,28.0 L312.7,29.3 L315.2,28.9 L313.5,30.3 L315.7,30.0 L314.3,31.3 L316.4,30.9 L314.5,32.3 L316.5,32.1 L315.1,33.3 L317.0,33.3 L315.6,34.3 L317.1,34.6 L315.8,35.5 L317.1,35.8 L315.6,36.9 L317.9,36.6 L315.8,38.4 L317.9,37.7 L317.4,39.0 L318.5,38.2 L318.1,40.3 L319.0,38.4 L318.0,39.4 L319.6,37.1 L318.2,37.9 L319.9,37.4 L318.1,38.8 L320.2,38.9 L317.9,39.8 L320.6,40.1 L317.9,41.0 L320.6,41.4 L318.8,42.1 L320.3,42.6 L318.3,43.3 L320.2,43.8 L318.5,44.5 L320.0,45.0 L319.0,45.7 L320.5,46.2 L319.2,46.9 L320.6,47.4 L319.1,48.1 L321.1,48.6 L319.1,49.3 L320.7,49.8 L318.7,50.5 L320.9,51.0 L319.5,51.7 L320.7,52.2 L319.1,52.9 L320.7,53.4 L319.5,54.1 L321.2,54.5 L319.4,55.3 L321.1,55.7 L319.5,56.5 L321.6,56.9 L320.2,57.7 L321.4,58.1 L320.1,58.9 L322.2,59.2 L320.5,60.0 L321.8,60.5 L320.6,61.2 L322.4,61.6 L320.1,62.5 L321.9,62.9 L320.2,63.7 L322.7,64.0 L321.0,64.8 L323.0,65.2 L321.1,66.0 L323.1,66.4 L321.5,67.2 L322.9,67.6 L321.2,68.4 L323.5,68.7 L321.0,69.7 L323.3,70.0 L322.0,70.7 L323.3,71.2 L321.8,72.0 L324.0,72.3 L321.7,73.2 L323.6,73.5 L322.2,74.3 L324.1,74.7 L322.6,75.5 L324.3,75.9 L322.3,76.8 L324.2,77.1 L322.5,78.0 L324.3,78.3 L323.1,79.1 L324.5,79.5 L323.4,80.2 L324.3,80.7 L323.2,81.5 L325.1,81.8 L323.6,82.6 L325.0,83.1 L323.1,83.9 L325.3,84.3 L323.2,85.0 L325.3,85.5 L323.6,86.2 L325.2,86.7 L323.6,87.4 L325.2,87.9 L323.9,88.6 L325.1,89.1 L324.2,89.8 L325.2,90.3 L323.8,91.0 L325.4,91.5 L324.3,92.2 L325.7,92.6 L324.5,93.4 L325.9,93.7 L324.4,94.6 L325.9,94.9 L324.8,95.8 L326.4,96.0 L325.4,96.9 L326.1,97.3 L325.4,98.1 L326.6,98.5 L325.8,99.3 L327.0,99.6 L326.3,100.4 L327.5,100.7 L326.1,101.6 L327.2,102.0 L326.3,102.8 L327.6,103.2 L326.5,104.0 L327.9,104.3 L326.6,105.2 L327.7,105.6 L326.9,106.4 L328.1,106.7 L327.5,107.5 L328.4,107.9 L327.8,108.7 L329.0,109.0 L328.0,109.8 L328.9,110.2 L328.3,111.1 L329.4,111.2 L328.7,112.4 L329.5,112.4 L329.3,113.2 L330.9,112.4 L330.8,112.9 L331.9,112.5 L331.7,113.4 L332.5,113.5 L332.2,114.5 L333.1,114.5 L332.6,115.6 L333.6,115.7 L332.9,116.8 L334.0,116.7 L334.0,117.5 L335.2,117.2 L335.0,118.2 L335.9,118.2" fill="none" stroke="#111" stroke-width="1.1" stroke-linejoin="round"/>
<path d="M57.5,234.7 L57.6,234.1 L57.7,233.5 L57.8,232.9 L57.9,232.3 L58.0,231.7 L58.2,231.2 L58.2,230.6 L58.4,230.0 L58.5,229.4 L58.7,228.8 L58.7,228.2 L59.0,227.7 L59.0,227.0 L59.3,226.5 L59.4,225.9 L59.8,225.4 L59.8,224.8 L60.2,224.3 L60.3,223.7 L60.7,223.2 L60.7,222.6 L61.1,222.0 L61.0,221.4 L61.3,220.9 L61.2,220.2 L61.5,219.7 L61.4,219.1 L61.7,218.5 L61.7,217.9 L62.0,217.3 L61.8,216.7 L62.2,216.1 L62.1,215.5 L62.4,215.0 L62.3,214.3 L62.7,213.8 L62.6,213.2 L62.9,212.6 L62.7,212.0 L63.0,211.4 L62.8,210.8 L63.1,210.2 L63.0,209.6 L63.3,209.0 L63.1,208.4 L63.4,207.8 L63.3,207.2 L63.5,206.6 L63.4,206.0 L63.7,205.4 L63.5,204.8 L63.9,204.3 L63.7,203.6 L64.0,203.1 L63.8,202.4 L64.2,201.9 L64.0,201.2 L64.5,200.7 L64.3,200.1 L64.6,199.5 L64.4,198.9 L64.8,198.3 L64.6,197.7 L65.1,197.2 L64.8,196.5 L65.3,196.0 L65.0,195.3 L65.4,194.8 L65.3,194.2 L65.6,193.6 L65.4,193.0 L65.9,192.4 L65.6,191.8 L66.0,191.2 L65.7,190.6 L66.2,190.1 L66.1,189.4 L66.4,188.9 L66.2,188.2 L66.6,187.7 L66.4,187.0 L66.8,186.5 L66.5,185.9 L66.9,185.3 L66.7,184.7 L67.2,184.1 L66.9,183.5 L67.3,182.9 L67.0,182.3 L67.4,181.7 L67.3,181.1 L67.7,180.6 L67.4,179.9 L67.8,179.4 L67.5,178.7 L68.0,178.2 L67.7,177.5 L68.1,177.0 L67.7,176.3 L68.1,175.8 L67.8,175.1 L68.2,174.6 L67.9,174.0 L68.4,173.4 L68.0,172.8 L68.4,172.2 L68.2,171.6 L68.5,171.0 L68.1,170.4 L68.5,169.8 L68.4,169.2 L68.6,168.6 L68.3,168.0 L68.7,167.4 L68.7,166.8 L69.0,166.2 L68.7,165.6 L69.2,165.0 L68.9,164.4 L69.4,163.9 L69.2,163.2 L69.6,162.7 L69.4,162.0 L69.8,161.5 L69.7,160.9 L70.1,160.4 L70.0,159.7 L70.5,159.2 L70.5,158.6 L71.0,158.1 L70.7,157.4 L71.0,156.9 L70.8,156.3 L71.2,155.7 L71.0,155.1 L71.2,154.5 L71.0,153.9 L71.3,153.3 L71.0,152.7 L71.5,152.1 L71.2,151.5 L71.6,150.9 L71.3,150.3 L71.6,149.7 L71.3,149.1 L71.7,148.5 L71.5,147.9 L71.8,147.3 L71.5,146.7 L71.9,146.1 L71.7,145.5 L71.9,144.9 L71.7,144.3 L71.9,143.7 L71.8,143.1 L72.2,142.5 L71.9,141.9 L72.3,141.3 L72.0,140.7 L72.5,140.2 L72.2,139.5 L72.7,139.0 L72.4,138.3 L72.8,137.8 L72.6,137.1 L73.0,136.6 L72.8,136.0 L73.3,135.5 L73.1,134.8 L73.8,134.5 L73.8,133.9 L74.4,133.5 L74.2,132.8 L74.7,132.3 L74.4,131.6 L74.7,131.1 L74.5,130.4 L74.9,129.9 L74.7,129.3 L75.2,128.7 L74.9,128.1 L75.4,127.6 L75.0,126.8 L75.5,126.5 L75.4,125.8 L75.5,126.5 L75.9,126.9 L75.6,127.7 L76.1,128.2 L76.0,128.8 L76.4,129.3 L76.3,130.0 L76.7,130.5 L76.6,131.2 L77.1,131.6 L77.0,132.3 L77.3,132.8 L77.3,133.4 L77.7,134.0 L77.6,134.6 L78.1,135.1 L77.8,135.8 L78.1,136.3 L77.9,137.0 L78.5,137.5 L78.1,138.2 L78.6,138.7 L78.4,139.3 L78.8,139.9 L78.6,140.5 L79.0,141.1 L78.7,141.7 L79.1,142.3 L78.7,142.9 L79.2,143.5 L78.9,144.1 L79.2,144.7 L79.0,145.3 L79.3,145.9 L79.0,146.5 L79.5,147.0 L79.1,147.7 L79.6,148.2 L79.2,148.9 L79.6,149.4 L79.3,150.1 L79.7,150.6 L79.5,151.3 L79.8,151.8 L79.5,152.5 L80.1,153.0 L79.8,153.6 L80.2,154.2 L79.8,154.8 L80.0,155.4 L79.7,156.0 L80.0,156.6 L79.6,157.2 L80.0,157.8 L79.5,158.4 L79.8,159.0 L79.5,159.6 L79.8,160.2 L79.5,160.8 L79.6,161.4 L79.3,162.1 L79.5,162.6 L79.8,162.7 L80.7,162.6 L80.9,162.8 L81.4,163.1 L81.2,163.9 L81.7,164.3 L81.4,165.0 L81.8,165.5 L81.7,166.2 L82.1,166.7 L81.8,167.4 L82.1,167.9 L82.0,168.6 L82.4,169.1 L82.1,169.8 L82.6,170.3 L82.3,170.9 L82.9,171.4 L82.6,172.1 L83.1,172.6 L83.0,173.3 L83.3,173.8 L83.1,174.4 L83.6,175.0 L83.4,175.6 L83.7,176.2 L83.5,176.8 L83.7,177.4 L83.5,178.0 L83.9,178.6 L83.6,179.2 L83.9,179.8 L83.5,180.4 L83.9,181.0 L83.6,181.6 L84.0,182.2 L83.7,182.8 L84.1,183.4 L83.7,184.0 L84.0,184.6 L83.7,185.2 L84.1,185.8 L84.0,186.4 L84.4,186.9 L84.2,187.6 L84.6,188.1 L84.5,188.7 L84.9,189.2 L84.7,189.9 L85.3,190.4 L85.1,191.1 L85.5,191.6 L85.4,192.2 L85.8,192.7 L85.7,193.4 L86.1,193.9 L85.9,194.6 L86.3,195.1 L86.0,195.8 L86.4,196.3 L86.3,196.9 L86.6,197.5 L86.5,198.1 L86.9,198.7 L86.6,199.3 L87.0,199.9 L86.7,200.5 L87.1,201.1 L86.8,201.7 L87.0,202.3 L86.8,202.9 L87.1,203.5 L86.8,204.1 L87.0,204.7 L86.7,205.3 L87.0,205.9 L86.7,206.5 L87.0,207.1 L86.9,207.7 L87.1,208.3 L87.0,208.9 L87.3,209.4 L87.2,210.1 L87.4,210.6 L87.3,211.2 L87.6,211.8 L87.5,212.4 L87.8,213.0 L87.6,213.6 L87.8,214.2 L87.7,214.8 L88.0,215.4 L87.8,216.0 L88.1,216.6 L88.0,217.2 L88.3,217.8 L88.3,218.4 L88.7,218.9 L88.7,219.5 L89.0,220.1 L88.9,220.7 L89.3,221.2 L89.3,221.8 L89.6,222.4 L89.7,223.0 L90.0,223.5 L90.0,224.1 L90.4,224.6 L90.5,225.2 L90.8,225.8 L90.9,226.4 L91.2,226.9 L91.3,227.5 L91.7,228.0 L91.8,228.6 L92.2,229.1 L92.4,229.6 L92.8,230.1 L93.0,230.7 L93.3,231.2 L93.6,231.7 L94.1,232.1 L94.4,232.7 L94.8,233.1 L95.1,233.6 L95.7,233.8 L96.2,234.1 L96.8,234.3" fill="none" stroke="#111" stroke-width="1.4" stroke-linejoin="round"/>
<path d="M49.3,348.4 L48.7,347.5 L49.6,347.2 L49.1,346.4 L49.8,346.0 L49.3,345.2 L50.5,345.0 L49.7,344.1 L50.7,343.8 L50.2,343.0 L51.2,342.7 L50.6,341.8 L51.5,341.5 L51.0,340.6 L51.9,340.4 L51.5,339.5 L52.7,339.5 L52.2,338.5 L53.3,338.5 L52.8,337.5 L54.1,337.6 L53.6,336.6 L54.5,336.5 L54.2,335.5 L55.4,335.6 L54.9,334.6 L55.7,334.4 L55.8,333.7 L56.6,333.5 L56.2,332.6 L57.4,332.5 L56.9,331.6 L57.7,331.3 L57.2,330.5 L58.0,330.1 L57.8,329.4 L58.5,329.0 L58.0,328.2 L59.0,328.0 L58.5,327.1 L59.4,326.8 L58.9,326.0 L59.7,325.6 L59.1,324.8 L59.9,324.5 L59.3,323.6 L60.6,323.5 L59.7,322.4 L60.6,322.2 L60.4,321.4 L61.5,321.4 L61.0,320.4 L62.1,320.3 L62.1,319.6 L63.2,319.5 L62.7,318.7 L63.4,318.3 L63.1,317.6 L63.8,317.2 L62.9,316.4 L64.0,315.9 L62.9,315.2 L63.8,314.7 L63.0,314.0 L64.3,313.6 L63.1,312.7 L64.3,312.5 L63.5,311.5 L64.6,311.5 L64.2,310.6 L65.6,310.7 L65.2,309.8 L66.5,309.9 L66.0,309.0 L67.1,308.9 L66.1,307.9 L67.2,307.6 L66.2,306.7 L67.3,306.3 L66.6,305.6 L67.7,305.2 L66.4,304.3 L67.8,304.0 L67.1,303.2 L67.8,302.8 L67.1,302.0 L68.7,301.9 L67.8,300.9 L69.0,300.7 L68.4,299.9 L69.3,299.5 L68.4,298.7 L69.6,298.3 L68.5,297.5 L70.0,297.1 L69.0,296.4 L69.9,295.9 L68.9,295.2 L69.7,294.7 L68.9,294.0 L69.9,293.5 L68.7,292.8 L70.1,292.3 L69.2,291.6 L69.7,291.1 L68.7,290.4 L70.0,289.9 L68.9,289.2 L70.0,288.7 L68.9,288.0 L70.1,287.5 L69.0,286.7 L70.2,286.4 L69.3,285.6 L70.6,285.3 L70.1,284.5 L71.2,284.2 L70.2,283.3 L71.4,283.0 L70.8,282.2 L71.7,281.8 L70.8,281.0 L72.1,280.7 L71.2,279.9 L72.1,279.4 L71.1,278.7 L72.0,278.2 L71.2,277.5 L72.2,277.0 L71.6,276.3 L72.8,275.9 L71.7,275.2 L72.5,274.6 L71.6,273.9 L72.7,273.5 L72.0,272.7 L73.0,272.4 L72.1,271.4 L72.7,271.4 L72.6,270.0 L72.5,272.1 L73.2,271.2 L73.0,272.9 L73.6,272.4 L73.3,274.3 L73.6,273.7 L74.4,273.9 L73.5,272.7 L74.5,272.4 L73.5,271.6 L74.3,271.1 L73.7,270.4 L74.8,269.9 L73.8,269.2 L74.9,268.7 L73.9,268.0 L74.7,267.5 L74.0,266.8 L75.2,266.3 L74.1,265.6 L75.2,265.1 L74.1,264.4 L75.4,263.9 L74.0,263.2 L75.1,262.7 L74.2,262.0 L75.1,261.5 L74.4,260.8 L75.2,260.3 L74.3,259.6 L75.6,259.1 L74.7,258.4 L75.4,257.9 L74.4,257.2 L75.5,256.7 L74.8,256.0 L75.6,255.5 L75.0,254.7 L75.1,255.0 L76.0,255.2 L75.0,256.0 L75.8,256.5 L74.8,257.1 L75.9,257.7 L75.1,258.3 L76.1,258.9 L75.2,259.5 L76.2,260.1 L75.3,260.7 L76.0,261.3 L75.2,261.9 L76.0,262.5 L75.0,263.1 L76.1,263.7 L75.2,264.3 L76.2,264.9 L75.1,265.5 L76.1,266.1 L75.1,266.7 L76.6,267.3 L75.4,267.9 L76.2,268.5 L75.2,269.1 L76.3,269.7 L75.5,270.3 L76.2,270.9 L75.4,271.6 L76.7,271.8 L75.6,273.3 L75.8,272.0 L76.7,272.2 L75.6,271.1 L77.1,270.9 L75.9,270.0 L77.4,269.7 L76.3,268.9 L77.7,268.5 L76.8,267.8 L77.6,267.3 L77.0,266.6 L78.1,266.1 L76.6,265.4 L78.0,264.9 L77.2,264.2 L77.8,263.7 L77.1,263.0 L78.1,262.5 L77.4,261.8 L78.1,261.3 L77.2,260.6 L78.6,260.1 L77.7,259.4 L78.4,258.9 L77.6,258.2 L78.6,257.8 L77.6,256.9 L78.6,256.7 L77.9,255.3 L78.2,256.3 L78.8,256.3 L78.1,257.4 L79.4,257.4 L78.3,258.5 L79.4,258.7 L78.9,259.6 L79.5,259.5 L79.9,260.4 L78.9,259.0 L80.1,258.8 L79.1,258.0 L80.4,257.5 L79.3,256.8 L80.2,256.3 L79.1,255.6 L80.5,255.1 L79.1,254.4 L80.3,253.9 L79.5,253.2 L80.8,252.7 L79.5,252.0 L80.5,251.5 L79.8,250.8 L80.8,250.3 L79.5,249.6 L80.8,249.1 L79.8,248.4 L80.9,247.9 L79.6,247.2 L81.0,246.7 L79.8,246.0 L81.2,245.6 L79.9,244.7 L80.9,244.7 L80.9,244.4 L80.0,245.2 L81.4,245.7 L79.9,246.4 L81.0,246.9 L80.4,247.6 L81.4,248.1 L80.1,248.8 L81.1,249.3 L80.3,250.0 L81.2,250.5 L80.1,251.2 L81.3,251.7 L80.6,252.3 L81.6,252.9 L80.6,253.6 L81.5,254.1 L80.7,254.7 L81.5,255.3 L80.8,255.9 L81.5,256.5 L80.6,257.2 L81.5,257.7 L80.6,258.5 L81.6,258.3 L81.7,259.0 L81.1,258.0 L82.2,257.7 L81.2,256.8 L82.0,256.4 L81.1,255.6 L82.3,255.2 L81.4,254.5 L82.4,254.0 L81.4,253.2 L82.5,252.8 L81.8,252.0 L82.6,251.8 L82.4,250.6 L82.0,251.8 L83.0,252.1 L82.0,252.9 L83.0,253.4 L82.0,254.1 L83.3,254.6 L82.1,255.3 L83.2,255.8 L82.1,256.5 L83.2,257.0 L82.2,257.7 L83.5,258.2 L82.6,258.9 L83.8,259.4 L82.5,260.1 L84.0,260.5 L82.6,261.4 L83.6,261.7 L82.9,262.6 L84.1,262.8 L83.2,263.7 L84.5,263.5 L83.8,264.0 L85.1,264.2 L84.5,265.0 L85.3,265.3 L84.6,266.2 L85.5,266.6 L84.7,267.3 L86.0,267.7 L84.9,268.5 L86.1,268.9 L85.3,269.7 L86.0,270.1 L85.1,271.0 L86.5,271.2 L85.5,272.2 L86.8,272.3 L86.1,273.5 L87.0,273.1 L87.0,274.3 L87.0,273.2 L87.7,273.2 L87.4,272.1 L88.2,272.0 L87.8,271.0 L88.6,270.9 L88.2,269.6 L88.6,269.9 L89.1,269.8 L88.3,270.9 L89.4,271.2 L88.5,271.9 L89.6,272.4 L88.4,273.1 L89.6,273.7 L88.6,274.3 L89.2,274.9 L88.6,275.5 L89.7,276.1 L88.5,276.7 L89.7,277.3 L88.4,277.9 L89.3,278.5 L88.6,279.1 L89.5,279.7 L88.6,280.3 L89.8,280.8 L88.9,281.5 L89.9,282.0 L88.8,282.7 L89.8,283.2 L88.9,283.9 L90.0,284.4 L89.1,285.1 L90.3,285.5 L89.4,286.3 L90.3,286.8 L89.8,287.5 L90.9,287.9 L89.8,288.7 L90.9,289.1 L89.8,289.9 L91.3,290.3 L90.3,291.0 L91.4,291.5 L90.5,292.2 L91.4,292.7 L90.4,293.4 L91.3,293.9 L90.4,294.6 L91.6,295.1 L90.6,295.8 L91.8,296.3 L90.4,297.0 L91.6,297.5 L90.9,298.2 L91.9,298.7 L90.8,299.4 L91.8,299.9 L90.9,300.6 L92.0,301.1 L90.8,301.8 L92.4,302.2 L91.0,303.0 L92.2,303.4 L91.2,304.2 L92.6,304.6 L91.8,305.3 L93.0,305.7 L92.0,306.5 L93.0,306.9 L91.9,307.7 L93.3,308.1 L92.2,308.9 L93.5,309.3 L92.7,310.0 L93.2,310.6 L92.8,311.2 L93.7,311.7 L92.8,312.4 L93.6,312.9 L93.1,313.6 L94.0,314.1 L93.2,314.8 L94.2,315.3 L93.3,316.0 L94.4,316.5 L93.4,317.2 L94.4,317.7 L93.7,318.4 L94.4,318.9 L93.9,319.6 L94.7,320.0 L94.1,320.7 L94.8,321.2 L94.3,321.9 L95.0,322.4 L94.3,323.1 L95.4,323.6 L94.9,324.3 L95.5,324.8 L95.0,325.5 L95.6,326.0 L95.1,326.7 L95.8,327.2 L95.4,327.8 L96.2,328.3 L95.5,329.0 L96.3,329.5 L95.6,330.2 L96.4,330.7 L95.9,331.4 L96.6,331.9 L96.0,332.6 L96.7,333.1 L96.0,333.8 L96.8,334.3 L96.4,335.0 L97.0,335.5 L96.3,336.2 L97.4,336.6 L96.7,337.4 L97.5,337.8 L97.0,338.5 L98.0,338.9 L97.4,339.7 L98.2,340.1 L97.5,340.9 L98.4,341.3 L98.0,342.0 L98.8,342.4 L98.3,343.2 L99.0,343.5 L98.6,344.4 L99.8,344.2 L99.7,345.1 L100.5,345.2 L100.6,346.0 L101.6,345.6 L101.7,346.5 L102.5,346.4 L102.7,347.2 L103.5,347.1 L103.7,347.9 L104.5,347.7 L104.6,348.6 L105.5,348.3 L105.7,349.2 L106.5,349.0 L106.9,349.6 L107.6,349.3 L108.0,349.9 L108.8,349.7 L109.1,350.4" fill="none" stroke="#111" stroke-width="1.0" stroke-linejoin="round"/>
<path d="M57.5,466.3 L57.6,465.7 L57.8,465.1 L57.8,464.5 L58.0,464.0 L58.0,463.4 L58.3,462.8 L58.3,462.2 L58.5,461.6 L58.5,461.0 L58.7,460.4 L58.7,459.8 L59.0,459.3 L59.0,458.6 L59.2,458.1 L59.2,457.5 L59.6,457.0 L59.7,456.4 L60.2,455.9 L60.3,455.3 L60.7,454.9 L60.9,454.3 L61.2,453.7 L61.2,453.1 L61.4,452.6 L61.4,451.9 L61.7,451.4 L61.7,450.8 L62.0,450.2 L61.9,449.6 L62.2,449.0 L62.1,448.4 L62.5,447.9 L62.3,447.2 L62.7,446.7 L62.6,446.1 L62.9,445.5 L62.7,444.9 L63.0,444.3 L62.8,443.7 L63.2,443.1 L63.0,442.5 L63.2,441.9 L63.1,441.3 L63.4,440.7 L63.3,440.1 L63.5,439.5 L63.4,438.9 L63.7,438.3 L63.5,437.7 L63.8,437.2 L63.6,436.5 L63.8,436.0 L63.7,435.3 L64.1,434.8 L64.0,434.2 L64.3,433.6 L64.2,433.0 L64.6,432.4 L64.5,431.8 L64.8,431.3 L64.7,430.6 L65.0,430.1 L64.9,429.4 L65.2,428.9 L65.1,428.3 L65.6,427.7 L65.4,427.1 L65.8,426.6 L65.5,425.9 L65.8,425.3 L65.7,424.7 L66.1,424.2 L65.8,423.5 L66.1,423.0 L65.9,422.3 L66.3,421.8 L66.0,421.1 L66.5,420.6 L66.2,420.0 L66.6,419.4 L66.4,418.8 L66.8,418.2 L66.4,417.6 L66.8,417.0 L66.7,416.4 L67.0,415.8 L66.9,415.2 L67.2,414.6 L66.9,414.0 L67.3,413.4 L67.1,412.8 L67.6,412.3 L67.3,411.6 L67.7,411.1 L67.4,410.4 L67.8,409.9 L67.6,409.2 L67.9,408.7 L67.8,408.1 L68.2,407.5 L67.8,406.8 L68.2,406.3 L68.0,405.7 L68.3,405.1 L68.0,404.5 L68.5,403.9 L68.1,403.3 L68.6,402.7 L68.4,402.1 L68.7,401.5 L68.4,400.9 L68.9,400.3 L68.7,399.7 L69.0,399.1 L68.9,398.5 L69.2,398.0 L69.1,397.3 L69.4,396.8 L69.3,396.1 L69.6,395.6 L69.3,394.9 L69.9,394.5 L69.8,393.8 L70.3,393.3 L70.1,392.6 L70.6,392.2 L70.5,391.5 L70.9,391.0 L70.8,390.4 L71.1,389.8 L70.9,389.2 L71.3,388.6 L71.1,388.0 L71.5,387.4 L71.3,386.8 L71.7,386.3 L71.4,385.6 L71.8,385.1 L71.5,384.4 L72.0,383.9 L71.7,383.2 L72.0,382.7 L71.9,382.0 L72.2,381.5 L71.9,380.8 L72.3,380.3 L72.0,379.7 L72.3,379.1 L71.9,378.4 L72.3,377.9 L72.1,377.3 L72.4,376.7 L72.1,376.1 L72.5,375.5 L72.2,374.9 L72.6,374.3 L72.3,373.6 L72.7,373.1 L72.3,372.4 L72.8,371.9 L72.6,371.3 L73.1,370.7 L72.9,370.1 L73.3,369.6 L73.2,368.9 L73.5,368.4 L73.3,367.7 L73.8,367.2 L73.8,366.6 L74.4,366.2 L74.2,365.5 L74.8,365.0 L74.7,364.4 L75.1,363.9 L74.7,363.2 L75.2,362.7 L75.0,362.0 L75.4,361.5 L75.1,360.8 L75.5,360.3 L75.3,359.7 L75.5,359.1 L75.5,358.4 L75.6,358.1 L75.8,358.2 L75.8,358.9 L76.2,359.4 L76.0,360.1 L76.6,360.5 L76.4,361.2 L76.7,361.8 L76.7,362.4 L77.1,362.9 L77.0,363.5 L77.5,364.0 L77.3,364.7 L77.8,365.2 L77.7,365.8 L78.2,366.3 L78.1,367.0 L78.6,367.5 L78.2,368.2 L78.7,368.7 L78.4,369.3 L78.8,369.9 L78.6,370.5 L79.0,371.1 L78.8,371.7 L79.2,372.2 L78.9,372.9 L79.3,373.4 L79.1,374.1 L79.5,374.6 L79.2,375.3 L79.6,375.8 L79.4,376.5 L79.6,377.0 L79.4,377.6 L79.8,378.2 L79.5,378.8 L79.8,379.4 L79.6,380.0 L80.0,380.6 L79.7,381.2 L80.0,381.8 L79.8,382.4 L80.0,383.0 L79.9,383.6 L80.2,384.2 L79.8,384.8 L80.2,385.4 L80.0,386.0 L80.4,386.6 L80.0,387.2 L80.3,387.8 L80.0,388.4 L80.2,389.0 L79.9,389.6 L80.2,390.2 L79.9,390.8 L80.0,391.4 L79.7,392.1 L80.0,392.6 L79.7,393.3 L80.2,393.3 L80.4,393.0 L81.2,392.5 L81.2,392.8 L81.4,393.3 L81.2,394.0 L81.6,394.5 L81.3,395.2 L81.8,395.7 L81.6,396.3 L82.0,396.9 L81.7,397.5 L82.2,398.0 L82.0,398.7 L82.3,399.2 L82.0,399.9 L82.4,400.4 L82.2,401.1 L82.7,401.6 L82.5,402.2 L82.9,402.8 L82.7,403.4 L83.2,403.9 L82.9,404.6 L83.5,405.1 L83.2,405.8 L83.7,406.3 L83.4,406.9 L83.7,407.5 L83.6,408.1 L83.8,408.7 L83.7,409.3 L84.0,409.9 L83.7,410.5 L84.1,411.1 L83.8,411.7 L84.2,412.3 L83.9,412.9 L84.3,413.5 L84.1,414.1 L84.3,414.7 L84.1,415.3 L84.4,415.9 L84.1,416.5 L84.6,417.1 L84.3,417.7 L84.6,418.3 L84.4,418.9 L84.8,419.4 L84.7,420.1 L85.0,420.6 L85.0,421.2 L85.5,421.7 L85.3,422.4 L85.9,422.8 L85.7,423.5 L86.3,424.0 L86.1,424.7 L86.6,425.2 L86.5,425.8 L86.9,426.3 L86.8,426.9 L87.1,427.5 L86.9,428.1 L87.2,428.7 L87.0,429.3 L87.3,429.9 L87.1,430.5 L87.3,431.1 L87.2,431.7 L87.4,432.3 L87.2,432.9 L87.5,433.5 L87.3,434.1 L87.6,434.7 L87.4,435.3 L87.8,435.9 L87.5,436.5 L87.8,437.1 L87.6,437.7 L87.8,438.3 L87.8,438.9 L88.0,439.5 L87.8,440.1 L88.1,440.7 L87.9,441.3 L88.2,441.9 L88.0,442.5 L88.3,443.0 L88.1,443.7 L88.5,444.2 L88.4,444.8 L88.6,445.4 L88.5,446.0 L88.8,446.6 L88.7,447.2 L89.0,447.8 L88.8,448.4 L89.2,449.0 L89.1,449.6 L89.3,450.2 L89.2,450.8 L89.5,451.4 L89.4,452.0 L89.7,452.5 L89.6,453.2 L89.9,453.7 L89.8,454.3 L90.1,454.9 L90.2,455.5 L90.5,456.0 L90.6,456.6 L91.0,457.1 L91.0,457.7 L91.4,458.2 L91.5,458.8 L91.9,459.3 L92.0,459.9 L92.4,460.4 L92.5,461.0 L92.9,461.5 L93.1,462.1 L93.4,462.6 L93.6,463.2 L94.1,463.5 L94.5,463.9 L95.0,464.2 L95.5,464.6 L96.0,464.9 L96.5,465.2 L97.1,465.3 L97.7,465.5 L98.3,465.6" fill="none" stroke="#111" stroke-width="1.55" stroke-linejoin="round"/>
<path d="M281.3,231.3 L279.7,230.2 L281.3,230.0 L279.9,229.1 L281.9,229.0 L280.8,228.0 L282.6,227.9 L280.9,226.8 L282.5,226.7 L281.4,225.7 L283.3,225.7 L282.0,224.6 L283.1,224.4 L282.3,223.4 L283.4,223.3 L282.3,222.0 L284.1,222.3 L283.1,221.0 L285.1,221.6 L283.9,220.1 L285.5,220.4 L284.7,219.2 L286.4,219.6 L285.6,218.4 L286.9,218.5 L286.0,217.4 L287.7,217.5 L286.5,216.3 L288.3,216.4 L286.8,215.2 L288.1,215.0 L287.4,214.1 L288.7,214.1 L287.9,212.8 L289.3,213.4 L288.2,211.3 L289.6,212.0 L289.0,211.0 L290.6,212.5 L290.2,211.9 L291.4,212.7 L290.3,211.1 L291.8,211.5 L290.5,210.2 L291.8,210.1 L290.6,209.2 L292.2,208.9 L291.0,208.0 L292.7,207.9 L291.5,206.8 L292.8,206.8 L291.2,205.3 L293.0,205.7 L292.4,204.8 L294.1,205.2 L293.7,204.4 L295.2,204.6 L293.9,203.3 L295.5,203.4 L293.6,202.2 L295.7,202.1 L294.1,201.1 L295.7,200.9 L293.9,199.8 L296.1,199.9 L294.0,198.5 L296.2,198.8 L295.3,197.8 L297.3,198.2 L296.0,196.8 L297.8,197.2 L296.3,195.6 L298.2,196.0 L296.6,194.5 L298.6,194.9 L297.8,193.8 L299.4,193.8 L297.5,192.5 L299.7,192.6 L297.8,191.4 L300.1,191.4 L298.1,190.2 L300.1,190.2 L298.9,189.2 L300.4,189.0 L298.7,188.0 L301.1,187.9 L299.1,186.9 L301.1,186.7 L299.3,185.7 L302.3,185.6 L300.2,184.7 L301.7,184.3 L299.4,183.4 L302.3,183.1 L299.4,182.3 L301.6,181.8 L299.8,181.1 L301.5,180.6 L300.0,179.9 L302.1,179.4 L300.2,178.8 L301.9,178.2 L300.1,177.6 L301.6,177.0 L300.5,176.4 L302.4,175.8 L300.6,175.2 L302.7,174.6 L299.6,173.9 L302.7,173.5 L299.8,172.6 L301.6,172.3 L300.6,171.3 L301.9,171.4 L300.6,170.1 L302.0,170.5 L300.7,169.9 L303.8,171.7 L301.7,170.4 L303.6,170.9 L301.7,169.3 L304.4,169.8 L302.2,168.5 L303.7,168.2 L302.5,167.5 L304.1,167.0 L301.8,166.2 L303.8,165.8 L302.4,165.1 L304.2,164.6 L301.9,163.8 L304.1,163.4 L302.3,162.6 L304.4,162.2 L302.4,161.4 L305.0,161.0 L302.2,160.2 L305.1,159.8 L302.9,159.1 L304.6,158.6 L303.2,157.9 L304.6,157.4 L303.3,156.6 L305.2,156.5 L303.5,155.2 L303.5,156.0 L305.4,155.6 L302.8,156.9 L305.7,157.0 L303.3,157.9 L304.8,158.4 L303.0,159.2 L305.2,159.5 L303.1,160.6 L304.9,160.6 L304.2,161.8 L304.7,160.8 L305.5,162.5 L304.2,160.1 L306.2,160.9 L304.5,159.2 L306.3,159.4 L305.4,158.4 L307.0,158.3 L305.4,157.2 L307.4,157.1 L306.2,156.3 L307.9,156.0 L306.0,155.1 L307.7,154.7 L305.4,153.9 L308.4,153.5 L306.4,152.8 L307.9,152.2 L306.2,151.6 L307.8,151.0 L306.4,150.4 L307.5,149.8 L306.4,149.2 L307.5,148.6 L305.7,148.0 L307.5,147.4 L305.4,146.8 L308.3,146.2 L306.1,145.6 L308.2,145.0 L305.4,144.4 L307.5,143.8 L305.8,143.2 L307.9,142.6 L306.1,142.0 L307.7,141.4 L306.3,140.8 L308.1,140.2 L306.2,139.6 L307.9,139.1 L305.4,138.1 L306.2,138.6 L307.8,138.7 L305.5,139.5 L308.1,139.9 L305.9,140.7 L307.8,141.1 L305.9,141.9 L308.1,142.3 L306.1,143.0 L308.2,143.5 L306.7,144.2 L308.8,144.7 L306.1,145.4 L308.9,145.9 L306.6,146.6 L308.2,147.1 L306.9,147.8 L308.3,148.3 L306.7,149.0 L308.3,149.5 L306.9,150.2 L308.5,150.7 L306.3,151.4 L308.7,151.9 L306.4,152.6 L308.3,153.1 L307.2,153.8 L309.4,154.2 L307.4,155.1 L308.5,155.3 L307.5,157.1 L307.5,155.3 L308.8,155.5 L307.1,154.4 L309.5,154.3 L307.7,153.4 L309.6,153.0 L307.6,152.1 L310.1,151.9 L308.2,151.0 L309.6,150.6 L307.9,149.8 L309.6,149.4 L307.7,148.5 L310.8,148.3 L308.4,147.4 L310.7,147.1 L308.7,146.3 L311.0,145.9 L308.8,145.1 L310.1,144.6 L309.1,143.9 L310.7,143.5 L309.3,142.7 L311.4,142.3 L308.7,141.4 L311.1,141.1 L308.9,140.2 L311.1,139.9 L308.7,139.0 L311.5,138.7 L309.3,137.9 L311.2,137.5 L309.8,136.7 L311.4,136.3 L309.8,135.5 L311.3,135.1 L309.3,134.2 L311.7,134.0 L309.9,133.1 L311.6,132.7 L310.1,131.9 L312.5,131.6 L310.8,130.8 L313.0,130.5 L310.9,129.6 L312.4,129.2 L310.4,128.2 L312.6,128.2 L310.6,126.6 L312.2,127.4 L312.7,126.6 L310.9,128.0 L313.5,128.0 L310.7,129.0 L313.0,129.4 L311.2,130.1 L313.2,130.6 L311.1,131.4 L313.1,131.8 L311.0,132.6 L313.7,132.9 L311.8,133.8 L313.3,134.0 L311.7,135.2 L314.0,134.9 L311.9,135.8 L314.4,134.6 L312.3,135.2 L314.7,134.8 L312.4,136.3 L314.7,136.1 L313.4,137.0 L314.5,137.5 L312.7,138.2 L314.9,138.7 L312.6,139.4 L315.1,139.9 L312.8,140.6 L315.0,141.1 L313.0,141.8 L315.4,142.2 L313.3,143.1 L315.2,143.3 L312.9,144.6 L315.7,144.1 L313.8,145.5 L315.5,145.4 L314.2,146.6 L316.8,146.1 L314.9,147.6 L317.8,146.8 L315.9,148.3 L318.1,148.1 L315.8,149.4 L318.2,149.5 L315.6,150.6 L318.2,150.8 L315.6,151.7 L318.2,152.0 L316.4,152.8 L318.6,153.1 L316.6,154.1 L318.7,154.0 L316.7,155.7 L318.6,154.7 L317.5,157.7 L317.9,154.7 L318.9,156.7 L318.3,153.5 L319.6,155.6 L319.2,153.3 L319.8,153.8 L320.5,152.0 L319.3,154.1 L321.4,153.7 L319.1,155.0 L321.3,155.3 L319.2,156.1 L321.2,156.6 L318.5,157.2 L321.4,157.8 L319.1,158.4 L321.0,159.0 L318.9,159.6 L320.9,160.2 L319.0,160.8 L321.6,161.4 L318.5,162.1 L320.8,162.6 L318.8,163.3 L321.5,163.7 L319.2,164.6 L321.6,164.8 L319.0,165.8 L321.9,165.9 L320.1,166.9 L322.3,167.0 L319.4,168.3 L321.8,168.3 L320.1,169.3 L322.0,169.5 L320.4,170.5 L323.0,170.6 L320.5,171.6 L323.3,171.8 L321.1,172.7 L322.6,173.1 L320.6,173.9 L322.6,174.4 L321.4,175.1 L322.9,175.5 L320.9,176.3 L323.2,176.7 L320.9,177.5 L323.6,177.9 L321.0,178.7 L323.8,179.1 L321.0,179.9 L323.3,180.3 L321.7,181.0 L323.8,181.5 L321.6,182.3 L324.1,182.7 L321.4,183.5 L323.7,183.9 L322.3,184.6 L324.2,185.1 L321.7,185.9 L323.8,186.3 L322.6,187.0 L323.6,187.5 L322.5,188.2 L324.0,188.7 L322.6,189.4 L323.9,189.9 L322.9,190.6 L324.4,191.0 L323.2,191.8 L324.5,192.2 L323.0,193.0 L325.3,193.2 L322.8,194.3 L325.1,194.5 L323.8,195.3 L325.1,195.7 L323.5,196.6 L325.5,196.9 L323.8,197.8 L326.0,198.0 L324.0,199.0 L326.3,199.2 L324.7,200.1 L325.9,200.5 L324.9,201.2 L326.3,201.6 L324.6,202.5 L326.2,202.9 L325.3,203.6 L326.6,204.0 L325.4,204.8 L326.5,205.2 L325.4,206.0 L327.3,206.3 L325.6,207.2 L327.3,207.5 L325.8,208.4 L327.3,208.7 L326.2,209.5 L327.3,209.9 L325.9,210.8 L327.7,211.1 L326.6,211.9 L328.4,212.2 L326.3,213.2 L328.1,213.5 L326.9,214.3 L328.6,214.6 L327.4,215.4 L328.7,215.8 L327.5,216.6 L329.3,216.9 L327.9,217.8 L329.6,218.0 L328.1,219.0 L329.3,219.3 L328.4,220.1 L330.1,220.4 L328.1,221.4 L329.6,221.7 L328.5,222.6 L330.1,222.8 L328.7,223.8 L330.3,224.0 L328.8,225.1 L330.6,225.1 L329.3,226.2 L331.1,226.2 L329.9,227.4 L331.6,227.2 L330.5,228.5 L332.0,228.2 L331.1,229.6 L332.6,229.1 L332.4,230.1 L334.0,229.3 L333.3,230.9 L334.6,230.3 L334.3,231.7 L335.6,230.8 L335.0,232.9 L336.5,231.7 L336.4,233.0 L337.5,232.2 L337.6,233.3 L338.5,232.8" fill="none" stroke="#111" stroke-width="1.1" stroke-linejoin="round"/>
<path d="M281.6,348.6 L281.3,347.8 L282.3,347.5 L281.7,346.7 L282.5,346.4 L282.1,345.6 L282.7,345.1 L282.2,344.3 L283.2,344.1 L283.0,343.3 L283.9,343.1 L283.5,342.2 L284.3,341.9 L283.8,341.0 L284.8,340.9 L284.4,339.9 L285.5,339.9 L285.1,339.0 L286.2,338.9 L285.9,338.0 L287.1,338.1 L286.3,336.9 L287.5,336.9 L287.0,335.9 L288.0,335.8 L287.7,335.0 L288.6,334.7 L288.1,333.8 L289.5,333.8 L288.5,332.7 L290.1,332.8 L289.2,331.7 L290.2,331.5 L289.8,330.7 L290.7,330.4 L289.6,329.3 L291.1,329.3 L290.1,328.2 L291.8,328.4 L290.6,327.1 L292.5,327.4 L291.5,326.2 L292.9,326.3 L292.1,325.2 L293.5,325.3 L292.5,324.1 L293.8,324.1 L292.7,322.9 L294.2,322.9 L293.2,321.8 L295.1,322.1 L294.2,320.9 L295.8,321.1 L294.5,319.8 L296.3,320.0 L295.5,319.0 L296.8,318.9 L296.0,317.9 L297.3,317.8 L296.0,316.6 L297.8,316.7 L296.2,315.5 L297.9,315.4 L296.9,314.5 L298.6,314.3 L296.7,313.2 L298.5,313.1 L297.5,312.2 L298.9,311.9 L297.2,310.9 L298.9,310.7 L297.5,309.7 L299.8,309.6 L298.2,308.7 L300.0,308.5 L298.4,307.5 L300.2,307.3 L298.6,306.3 L300.7,306.2 L298.9,305.1 L301.0,305.1 L299.2,303.9 L301.0,303.9 L299.2,302.6 L301.3,302.7 L299.7,301.6 L302.5,301.7 L300.1,300.5 L302.5,300.4 L300.6,299.5 L302.9,299.2 L300.8,298.4 L302.9,298.0 L300.5,297.2 L302.9,296.7 L300.8,296.0 L302.8,295.5 L301.2,294.8 L302.2,294.3 L301.2,293.6 L302.9,293.1 L301.0,292.4 L303.1,291.9 L301.3,291.2 L302.4,290.7 L300.6,290.0 L302.7,289.5 L301.2,288.8 L303.1,288.4 L301.3,287.6 L303.5,287.4 L301.7,286.4 L303.7,286.3 L301.8,285.1 L304.2,285.2 L302.4,284.1 L304.5,284.0 L302.7,282.9 L304.4,282.7 L302.7,281.7 L304.7,281.5 L302.8,280.6 L305.0,280.3 L303.3,279.5 L304.5,279.0 L303.0,278.2 L305.2,277.9 L303.3,277.1 L305.2,276.7 L303.0,275.8 L305.1,275.5 L303.2,274.6 L305.1,274.3 L303.5,273.4 L305.9,273.4 L304.3,272.1 L304.8,273.0 L305.4,272.0 L304.6,273.2 L305.9,273.3 L304.1,274.4 L306.0,274.6 L304.1,275.6 L305.9,275.9 L305.0,276.7 L306.4,276.9 L305.1,278.0 L306.4,277.8 L306.2,278.9 L305.5,277.6 L306.8,277.5 L305.1,276.5 L307.0,276.2 L305.1,275.4 L307.1,275.0 L305.6,274.3 L307.0,273.8 L305.8,273.1 L307.8,272.6 L305.7,271.9 L307.3,271.4 L306.0,270.7 L307.9,270.2 L305.6,269.4 L307.9,269.0 L305.6,268.2 L307.5,267.8 L305.8,267.0 L307.4,266.6 L305.9,265.9 L307.8,265.4 L306.0,264.7 L307.8,264.2 L306.4,263.5 L308.3,263.0 L305.9,262.2 L308.1,261.8 L306.8,261.1 L307.9,260.6 L306.4,259.9 L308.8,259.5 L307.1,258.7 L308.3,258.3 L307.1,257.4 L308.5,258.0 L308.2,257.0 L307.3,257.9 L308.9,258.3 L306.4,259.1 L309.0,259.6 L307.3,260.3 L308.7,260.8 L307.0,261.5 L309.2,262.0 L306.8,262.7 L308.5,263.2 L307.1,263.9 L309.2,264.4 L307.1,265.1 L309.2,265.6 L306.7,266.3 L309.5,266.8 L306.9,267.5 L309.2,268.0 L307.5,268.7 L308.8,269.1 L307.7,270.0 L308.9,269.5 L309.3,270.9 L307.3,269.2 L309.8,269.3 L307.9,268.3 L309.5,267.9 L308.2,267.1 L309.8,266.8 L307.6,265.8 L310.2,265.6 L308.3,264.7 L309.8,264.3 L308.1,263.5 L310.7,263.3 L308.3,262.3 L310.3,262.0 L308.9,261.1 L310.7,260.9 L308.6,259.8 L310.6,259.7 L309.3,258.7 L310.8,258.5 L310.2,257.7 L311.6,257.5 L310.0,256.5 L312.3,256.5 L310.5,255.4 L312.3,255.2 L310.9,254.3 L312.8,254.0 L310.8,253.1 L312.3,252.7 L310.9,251.9 L313.4,251.7 L311.6,250.8 L313.5,250.5 L311.7,249.6 L313.0,249.2 L311.1,248.3 L313.9,248.1 L312.0,247.2 L313.8,247.0 L311.8,245.7 L313.4,246.1 L313.7,244.6 L312.0,246.4 L313.6,246.5 L312.2,247.4 L314.2,247.8 L312.1,248.5 L314.1,249.0 L312.1,249.7 L313.8,250.2 L312.9,250.9 L313.8,251.4 L312.4,252.3 L314.3,252.5 L312.3,253.6 L315.1,253.4 L313.5,254.5 L315.0,254.6 L313.7,255.7 L315.6,255.6 L313.7,257.0 L316.1,256.8 L314.6,257.9 L316.5,257.9 L315.0,259.0 L316.8,259.2 L315.5,260.1 L317.0,260.4 L315.3,261.4 L317.3,261.5 L315.5,262.5 L317.5,262.8 L315.5,263.7 L317.3,264.0 L315.7,264.9 L318.0,265.2 L315.9,266.0 L317.9,266.4 L316.6,267.1 L318.5,267.5 L316.1,268.5 L318.6,268.4 L316.6,269.9 L318.4,269.2 L316.6,271.4 L318.5,269.4 L317.1,270.3 L319.3,268.1 L318.2,268.7 L319.2,268.4 L318.0,269.7 L319.7,269.7 L317.8,270.7 L319.8,271.1 L317.6,271.8 L320.1,272.3 L318.4,273.0 L319.7,273.5 L317.7,274.2 L320.2,274.7 L318.6,275.4 L320.1,275.9 L318.6,276.6 L320.0,277.0 L317.8,278.0 L319.7,278.3 L318.1,279.2 L320.5,279.2 L318.5,280.4 L321.4,280.2 L319.9,281.2 L321.5,281.4 L319.4,282.6 L321.4,282.7 L319.8,283.7 L321.6,283.9 L320.5,284.7 L321.9,285.1 L320.6,285.9 L322.8,286.1 L320.9,287.1 L322.5,287.4 L320.9,288.3 L322.9,288.5 L320.6,289.6 L323.0,289.8 L320.9,290.7 L322.8,291.0 L321.3,291.9 L323.0,292.2 L321.3,293.1 L323.6,293.3 L322.1,294.1 L324.0,294.5 L321.9,295.4 L323.8,295.7 L322.5,296.5 L324.4,296.9 L322.2,297.8 L324.5,298.1 L322.8,298.9 L324.4,299.3 L322.7,300.1 L324.5,300.5 L322.6,301.3 L324.9,301.7 L322.5,302.6 L324.4,302.9 L322.7,303.7 L324.5,304.1 L323.6,304.8 L324.8,305.3 L323.5,306.1 L325.4,306.4 L323.4,307.3 L325.1,307.7 L323.4,308.5 L325.8,308.8 L323.7,309.7 L325.6,310.0 L323.6,310.9 L325.5,311.3 L323.7,312.1 L325.5,312.5 L324.7,313.2 L326.2,313.6 L324.7,314.4 L325.9,314.8 L324.5,315.6 L325.8,316.1 L324.7,316.8 L326.1,317.2 L325.1,317.9 L326.4,318.4 L325.0,319.2 L326.2,319.6 L324.9,320.4 L326.5,320.8 L325.6,321.5 L327.0,322.0 L325.4,322.7 L326.5,323.2 L325.7,323.9 L326.7,324.4 L326.0,325.1 L326.9,325.6 L326.0,326.3 L326.9,326.8 L325.9,327.6 L327.1,327.9 L326.6,328.7 L327.4,329.1 L326.7,329.9 L327.7,330.3 L326.9,331.1 L328.4,331.3 L327.0,332.3 L328.4,332.5 L327.4,333.4 L328.9,333.7 L327.8,334.6 L329.1,334.8 L328.2,335.7 L329.4,336.0 L328.4,336.9 L329.6,337.2 L328.6,338.1 L329.6,338.4 L328.9,339.2 L329.9,339.6 L329.4,340.3 L330.4,340.7 L329.6,341.6 L330.4,341.9 L330.0,342.7 L330.8,343.0 L330.7,343.7 L331.5,344.0 L331.2,344.9 L332.0,345.0 L331.8,346.0 L332.7,346.0 L332.6,346.8 L333.4,347.0 L333.5,347.7 L334.5,347.5 L334.2,348.7 L335.4,348.3 L335.3,349.2 L336.3,349.0 L336.3,350.0" fill="none" stroke="#111" stroke-width="1.1" stroke-linejoin="round"/>
<path d="M281.0,464.6 L280.4,463.8 L281.2,463.4 L281.0,462.7 L281.9,462.3 L281.1,461.5 L282.1,461.2 L281.4,460.3 L282.1,459.9 L281.7,459.1 L282.5,458.8 L282.4,458.1 L283.0,457.7 L282.8,456.9 L283.6,456.7 L283.3,455.9 L284.5,455.8 L283.6,454.7 L285.0,454.8 L284.6,453.8 L285.7,453.8 L285.0,452.7 L286.3,452.8 L285.9,451.8 L286.8,451.7 L286.4,450.7 L287.5,450.7 L286.7,449.5 L288.1,449.6 L287.3,448.5 L288.9,448.7 L287.9,447.5 L289.1,447.4 L288.6,446.5 L290.1,446.6 L289.3,445.5 L290.2,445.3 L289.4,444.2 L291.2,444.4 L289.8,443.1 L291.6,443.3 L290.4,442.0 L291.9,442.1 L291.4,441.2 L292.7,441.2 L291.9,440.1 L293.3,440.1 L292.4,439.0 L293.3,438.8 L292.3,437.6 L294.0,437.8 L293.1,436.7 L294.5,436.6 L293.2,435.6 L294.8,435.5 L293.7,434.5 L295.7,434.5 L294.3,433.4 L295.4,433.1 L294.7,432.3 L295.7,432.0 L294.4,431.0 L296.4,430.9 L294.7,429.8 L296.9,429.9 L295.3,428.7 L297.0,428.6 L296.1,427.7 L298.1,427.7 L295.8,426.4 L298.0,426.4 L296.3,425.3 L298.7,425.3 L297.1,424.3 L298.4,424.0 L296.8,423.0 L299.4,423.0 L296.8,421.8 L299.1,421.7 L298.0,420.8 L299.3,420.5 L298.2,419.6 L300.2,419.6 L298.3,418.4 L300.5,418.5 L298.9,417.3 L301.1,417.5 L299.1,416.1 L301.6,416.3 L299.5,415.1 L302.0,415.2 L300.4,414.1 L301.5,413.7 L300.2,412.9 L302.4,412.6 L299.6,411.7 L302.3,411.3 L300.0,410.6 L301.6,410.1 L299.7,409.4 L302.3,408.9 L300.1,408.2 L302.6,407.7 L300.6,407.0 L302.4,406.5 L300.2,405.8 L302.6,405.4 L300.9,404.6 L302.7,404.2 L300.1,403.2 L302.7,403.1 L301.1,402.2 L303.3,402.1 L301.6,401.0 L303.0,400.8 L301.2,399.6 L303.7,399.7 L302.1,398.6 L304.3,398.6 L302.1,397.5 L303.9,397.3 L302.9,396.4 L304.9,396.2 L302.4,395.2 L304.2,394.8 L302.7,394.1 L305.0,393.7 L303.0,392.9 L304.4,392.4 L303.0,391.7 L305.4,391.3 L302.8,390.5 L304.7,390.0 L302.7,389.2 L305.2,389.0 L303.4,388.0 L304.8,388.0 L304.1,386.4 L303.8,388.2 L305.2,387.8 L304.0,389.0 L306.1,388.9 L303.8,390.3 L306.0,390.1 L304.0,391.7 L306.3,390.9 L305.2,393.6 L304.8,391.0 L306.7,391.8 L304.6,390.5 L307.0,390.4 L304.6,389.4 L307.3,389.1 L305.2,388.3 L306.9,387.9 L305.4,387.1 L307.5,386.7 L304.8,385.9 L307.2,385.5 L305.4,384.7 L306.9,384.3 L304.9,383.5 L307.6,383.1 L305.1,382.3 L307.7,381.9 L305.6,381.1 L307.9,380.7 L305.4,379.9 L308.1,379.6 L306.0,378.8 L307.9,378.3 L305.5,377.5 L308.0,377.1 L305.8,376.3 L308.1,375.9 L305.9,375.1 L307.8,374.7 L306.8,374.0 L307.9,373.5 L306.5,372.7 L308.3,372.4 L306.1,371.3 L308.7,372.0 L308.1,370.8 L306.3,372.0 L308.6,372.2 L306.3,373.0 L308.5,373.5 L306.5,374.2 L308.2,374.7 L306.8,375.4 L308.6,375.9 L307.1,376.6 L308.6,377.1 L307.0,377.8 L308.8,378.3 L306.9,379.0 L309.1,379.5 L306.6,380.2 L309.4,380.7 L306.8,381.4 L308.7,381.9 L307.0,382.6 L309.0,383.1 L307.4,383.7 L308.9,384.3 L307.4,384.9 L309.2,385.5 L307.6,386.1 L309.2,386.7 L307.3,387.4 L308.7,387.9 L307.5,388.7 L309.5,388.3 L308.2,390.7 L308.1,388.8 L309.5,389.0 L307.6,387.5 L309.4,387.5 L308.2,386.6 L309.8,386.3 L308.3,385.4 L310.7,385.3 L308.9,384.3 L310.2,383.9 L309.1,383.2 L310.9,382.8 L309.3,382.0 L310.9,381.6 L308.7,380.7 L311.3,380.4 L308.9,379.5 L310.6,379.1 L309.3,378.4 L311.0,377.9 L309.3,377.2 L311.0,376.7 L309.9,376.0 L312.0,375.6 L309.2,374.7 L311.2,374.3 L309.4,373.6 L311.3,373.2 L310.0,372.4 L312.4,372.1 L309.5,371.1 L311.9,370.8 L309.9,370.0 L312.0,369.6 L309.9,368.8 L312.1,368.4 L310.8,367.6 L312.1,367.2 L310.5,366.4 L312.7,366.1 L310.4,365.2 L312.4,364.9 L310.6,364.0 L313.4,363.8 L310.9,362.8 L312.7,362.5 L311.7,361.7 L312.9,361.3 L311.7,360.3 L313.6,360.7 L312.6,358.8 L311.9,360.5 L313.2,360.4 L311.6,361.4 L313.4,361.7 L311.6,362.5 L314.0,362.9 L312.4,363.6 L314.2,364.0 L312.3,364.8 L314.2,365.3 L312.2,366.1 L314.0,366.4 L312.5,367.4 L314.6,367.3 L312.3,369.0 L314.7,368.3 L312.7,370.0 L315.3,368.4 L314.0,368.9 L316.3,367.6 L314.6,368.9 L316.3,368.7 L313.9,370.4 L316.0,370.3 L313.9,371.3 L316.7,371.6 L314.6,372.4 L316.4,372.8 L314.9,373.5 L316.5,374.0 L314.9,374.7 L316.6,375.2 L315.0,376.0 L316.4,376.3 L314.3,377.4 L316.3,377.4 L314.3,378.9 L316.6,378.5 L315.6,379.5 L318.0,379.0 L316.6,380.2 L318.6,379.8 L316.4,381.4 L319.2,380.9 L316.9,382.3 L318.6,382.5 L317.1,383.4 L318.8,383.8 L317.4,384.5 L319.0,384.9 L317.6,385.7 L318.8,386.2 L317.2,386.9 L318.9,387.4 L317.5,388.1 L319.4,388.5 L317.5,389.3 L319.8,389.6 L317.8,390.6 L320.1,390.6 L318.0,392.1 L319.6,390.9 L319.7,392.9 L317.9,390.8 L320.6,391.3 L318.2,390.0 L320.3,389.8 L318.6,388.9 L320.2,388.6 L318.6,387.7 L321.0,387.5 L318.7,386.4 L320.6,386.2 L319.6,385.3 L321.2,385.5 L320.4,383.1 L320.0,385.1 L320.9,385.4 L319.7,386.2 L321.3,386.6 L320.0,387.3 L321.1,387.8 L319.9,388.5 L321.1,389.0 L320.0,389.7 L321.1,390.2 L319.8,390.9 L321.9,391.4 L319.6,392.1 L321.8,392.6 L319.8,393.3 L321.4,393.8 L320.3,394.5 L321.5,395.0 L319.4,395.7 L322.2,396.2 L319.9,396.9 L322.0,397.4 L319.7,398.2 L322.3,398.5 L320.3,399.3 L322.4,399.7 L320.2,400.6 L322.1,400.9 L320.8,401.7 L322.3,402.1 L320.8,403.0 L323.3,403.1 L320.8,404.2 L322.8,404.4 L321.7,405.2 L323.1,405.6 L321.8,406.4 L323.0,406.9 L321.2,407.6 L323.2,408.1 L321.4,408.8 L323.3,409.3 L321.0,410.0 L323.6,410.4 L322.0,411.1 L323.9,411.6 L322.0,412.4 L323.7,412.8 L322.1,413.6 L323.9,414.0 L322.2,414.8 L323.8,415.2 L322.5,415.9 L324.6,416.3 L322.6,417.1 L324.0,417.6 L322.5,418.4 L324.0,418.8 L322.9,419.5 L324.5,419.9 L322.7,420.8 L324.7,421.1 L323.1,421.9 L325.0,422.3 L322.9,423.2 L324.8,423.5 L323.5,424.3 L325.2,424.7 L323.5,425.5 L325.6,425.8 L324.1,426.6 L325.4,427.1 L323.9,427.9 L325.3,428.3 L323.6,429.1 L325.4,429.5 L323.8,430.3 L326.1,430.6 L323.8,431.5 L325.6,431.9 L324.7,432.6 L325.7,433.1 L324.7,433.8 L326.5,434.2 L324.6,435.0 L326.0,435.5 L325.2,436.2 L326.6,436.6 L324.9,437.4 L326.2,437.8 L325.2,438.6 L326.6,439.0 L325.7,439.8 L326.8,440.2 L325.4,441.1 L327.3,441.3 L326.0,442.2 L327.3,442.5 L326.4,443.3 L327.9,443.6 L326.4,444.5 L328.3,444.8 L327.0,445.6 L328.1,446.0 L327.2,446.8 L328.3,447.2 L327.2,448.0 L328.6,448.4 L327.7,449.2 L328.9,449.5 L327.9,450.3 L329.1,450.7 L328.5,451.5 L329.5,451.9 L328.7,452.6 L329.8,453.0 L328.9,453.8 L329.7,454.2 L329.0,455.1 L330.2,455.3 L329.4,456.2 L330.3,456.5 L329.8,457.3 L330.7,457.6 L330.5,458.4 L331.6,458.5 L330.9,459.6 L331.9,459.6 L331.5,460.6 L332.4,460.7 L332.2,461.6 L333.2,461.6 L333.2,462.4 L334.2,462.3 L334.1,463.2 L335.2,463.0 L335.0,464.1 L335.8,464.1 L335.9,464.8 L336.8,464.7 L336.7,465.7 L337.5,465.8 L337.6,466.5" fill="none" stroke="#111" stroke-width="1.1" stroke-linejoin="round"/>
<text x="209.18" y="35.4" textLength="49.75" lengthAdjust="spacingAndGlyphs" font-size="19" font-weight="bold">CD14</text>
<text x="439.98" y="36.2" textLength="50.02" lengthAdjust="spacingAndGlyphs" font-size="19" font-weight="bold">CD40</text>
<text x="210.7" y="149.6" textLength="48.37" lengthAdjust="spacingAndGlyphs" font-size="19" font-weight="bold">CD1a</text>
<text x="440.66" y="149.2" textLength="51.26" lengthAdjust="spacingAndGlyphs" font-size="19" font-weight="bold">CD80</text>
<text x="197.51" y="263.4" textLength="69.08" lengthAdjust="spacingAndGlyphs" font-size="19" font-weight="bold">HLA-DR</text>
<text x="440.36" y="262" textLength="50.85" lengthAdjust="spacingAndGlyphs" font-size="19" font-weight="bold">CD83</text>
<text x="213.37" y="381.2" textLength="50.43" lengthAdjust="spacingAndGlyphs" font-size="19" font-weight="bold">CD33</text>
<text x="446.57" y="381.2" textLength="50.33" lengthAdjust="spacingAndGlyphs" font-size="19" font-weight="bold">CD86</text>
<text transform="translate(15.1,291.7) rotate(-90)" textLength="109.6" lengthAdjust="spacingAndGlyphs" font-size="19.5" font-weight="bold">Cell Number</text>
<text x="169.14" y="518.1" textLength="205.6" lengthAdjust="spacingAndGlyphs" font-size="19.6" font-weight="bold">Fluorescence intensity</text>
</svg>
</body></html>
